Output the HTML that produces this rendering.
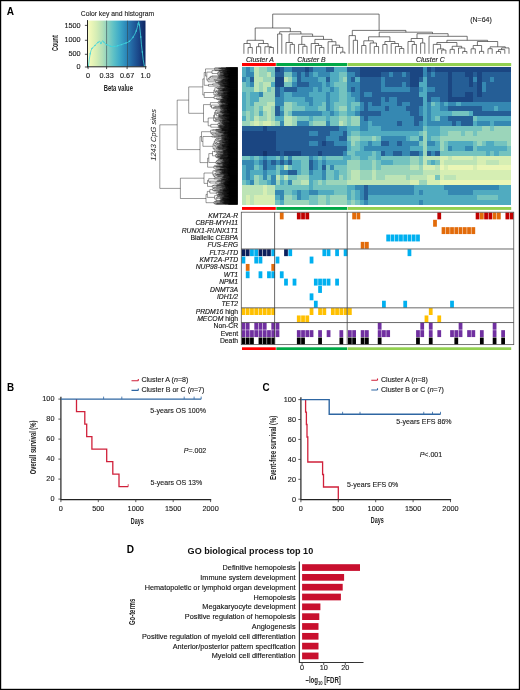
<!DOCTYPE html>
<html><head><meta charset="utf-8"><style>
html,body{margin:0;padding:0;background:#fff;}
body{width:520px;height:690px;overflow:hidden;}
svg{display:block;font-family:"Liberation Sans", sans-serif;will-change:transform;}

</style></head><body>
<svg width="520" height="690" viewBox="0 0 520 690">
<rect width="520" height="690" fill="#fff"/>
<text font-size="10.4" font-weight="bold" fill="#000" transform="translate(6.80,14.50) scale(0.970,1)" >A</text>
<defs><linearGradient id="ck" x1="0" x2="1" y1="0" y2="0">
<stop offset="0" stop-color="#f8fbc8"/><stop offset="0.05" stop-color="#eef7b8"/>
<stop offset="0.15" stop-color="#d5edb5"/><stop offset="0.25" stop-color="#b5e0b8"/>
<stop offset="0.33" stop-color="#90d3c0"/><stop offset="0.45" stop-color="#5cc0c6"/>
<stop offset="0.55" stop-color="#3eaac8"/><stop offset="0.67" stop-color="#2a86b8"/>
<stop offset="0.78" stop-color="#2262a0"/><stop offset="0.88" stop-color="#1a4688"/>
<stop offset="1" stop-color="#0c2460"/></linearGradient></defs>
<rect x="87.9" y="20.6" width="57.599999999999994" height="45.99999999999999" fill="url(#ck)"/>
<line x1="106.6" y1="20.6" x2="106.6" y2="66.6" stroke="#34474f" stroke-width="0.6"/>
<line x1="127.5" y1="20.6" x2="127.5" y2="66.6" stroke="#34474f" stroke-width="0.6"/>
<polyline fill="none" stroke="#3fd3dc" stroke-width="0.8" points="88.4,66.3 89.2,60 90.2,53.8 91,50.5 92,48.4 93.5,46.8 95,45.4 96.5,44 97.9,42.4 99.7,41.2 100.9,43.6 102.7,40.6 104,42.2 105,43.6 106.8,44.8 108.6,45.4 110.4,46.2 112.2,46.6 114,46.4 115.8,46.4 117.6,45.8 119.4,45.2 121.5,44.6 124.1,43.6 126,43 127.7,42.4 129.5,41.2 131.3,39.5 133,37.2 134.9,34.1 136.2,31 137.3,27.5 138.1,24 138.7,21.6 139.4,25 140.2,31.1 140.8,37 141.4,44.2 142.3,52 143.2,59.7 144.4,66.3"/>
<g fill="#3fd6df"><circle cx="88.4" cy="66.3" r="0.7"/><circle cx="90.2" cy="53.8" r="0.7"/><circle cx="92" cy="48.4" r="0.7"/><circle cx="95" cy="45.4" r="0.7"/><circle cx="97.9" cy="42.4" r="0.7"/><circle cx="100.9" cy="43.6" r="0.7"/><circle cx="104" cy="42.2" r="0.7"/><circle cx="106.8" cy="44.8" r="0.7"/><circle cx="110.4" cy="46.2" r="0.7"/><circle cx="114" cy="46.4" r="0.7"/><circle cx="117.6" cy="45.8" r="0.7"/><circle cx="121.5" cy="44.6" r="0.7"/><circle cx="126" cy="43" r="0.7"/><circle cx="129.5" cy="41.2" r="0.7"/><circle cx="133" cy="37.2" r="0.7"/><circle cx="136.2" cy="31" r="0.7"/><circle cx="138.1" cy="24" r="0.7"/><circle cx="139.4" cy="25" r="0.7"/><circle cx="140.8" cy="37" r="0.7"/><circle cx="142.3" cy="52" r="0.7"/><circle cx="144.4" cy="66.3" r="0.7"/></g>
<line x1="87.5" y1="20.1" x2="87.5" y2="67.19999999999999" stroke="#222" stroke-width="1"/>
<line x1="87.0" y1="66.8" x2="146.5" y2="66.8" stroke="#222" stroke-width="1"/>
<line x1="84.9" y1="25.4" x2="87.9" y2="25.4" stroke="#222" stroke-width="0.8"/>
<text font-size="6.9" text-anchor="end" fill="#1a1a1a" stroke="#1a1a1a" stroke-width="0.12" transform="translate(80.70,27.65) scale(1.060,1)" >1500</text>
<line x1="84.9" y1="40.3" x2="87.9" y2="40.3" stroke="#222" stroke-width="0.8"/>
<text font-size="6.9" text-anchor="end" fill="#1a1a1a" stroke="#1a1a1a" stroke-width="0.12" transform="translate(80.70,41.60) scale(1.060,1)" >1000</text>
<line x1="84.9" y1="54.3" x2="87.9" y2="54.3" stroke="#222" stroke-width="0.8"/>
<text font-size="6.9" text-anchor="end" fill="#1a1a1a" stroke="#1a1a1a" stroke-width="0.12" transform="translate(80.70,55.60) scale(1.060,1)" >500</text>
<line x1="84.9" y1="67.0" x2="87.9" y2="67.0" stroke="#222" stroke-width="0.8"/>
<text font-size="6.9" text-anchor="end" fill="#1a1a1a" stroke="#1a1a1a" stroke-width="0.12" transform="translate(80.70,68.90) scale(1.060,1)" >0</text>
<line x1="88.1" y1="66.6" x2="88.1" y2="69.1" stroke="#222" stroke-width="0.8"/>
<text font-size="6.9" text-anchor="middle" fill="#1a1a1a" stroke="#1a1a1a" stroke-width="0.12" transform="translate(88.10,77.80) scale(1.060,1)" >0</text>
<line x1="106.6" y1="66.6" x2="106.6" y2="69.1" stroke="#222" stroke-width="0.8"/>
<text font-size="6.9" text-anchor="middle" fill="#1a1a1a" stroke="#1a1a1a" stroke-width="0.12" transform="translate(106.60,77.80) scale(1.060,1)" >0.33</text>
<line x1="127.1" y1="66.6" x2="127.1" y2="69.1" stroke="#222" stroke-width="0.8"/>
<text font-size="6.9" text-anchor="middle" fill="#1a1a1a" stroke="#1a1a1a" stroke-width="0.12" transform="translate(127.10,77.80) scale(1.060,1)" >0.67</text>
<line x1="145.6" y1="66.6" x2="145.6" y2="69.1" stroke="#222" stroke-width="0.8"/>
<text font-size="6.9" text-anchor="middle" fill="#1a1a1a" stroke="#1a1a1a" stroke-width="0.12" transform="translate(145.60,77.80) scale(1.060,1)" >1.0</text>
<text font-size="7.0" text-anchor="middle" fill="#222" stroke="#222" stroke-width="0.12" transform="translate(117.45,16.30) scale(0.970,1)" >Color key and histogram</text>
<text font-size="9.3" text-anchor="middle" font-weight="bold" fill="#222" transform="translate(58.10,43.10) rotate(-90) scale(0.581,1)" >Count</text>
<text font-size="8.9" text-anchor="middle" font-weight="bold" fill="#222" transform="translate(118.30,90.50) scale(0.656,1)" >Beta value</text>
<g shape-rendering="crispEdges"><path fill="#eaf6b6" d="M439.57 165.27h4.25v4.94h-4.25zM447.98 165.27h25.29v4.94h-25.29zM477.44 165.27h33.70v4.94h-33.70zM439.57 179.98h71.57v4.94h-71.57z"/><path fill="#d6eeb3" d="M254.42 121.14h4.25v4.94h-4.25zM262.84 121.14h8.46v4.94h-8.46zM439.57 155.46h8.46v4.94h-8.46zM452.19 155.46h21.08v4.94h-21.08zM477.44 155.46h33.70v4.94h-33.70zM439.57 160.37h4.25v4.94h-4.25zM477.44 160.37h8.46v4.94h-8.46zM498.48 160.37h12.66v4.94h-12.66zM422.74 165.27h12.66v4.94h-12.66zM443.78 165.27h4.25v4.94h-4.25zM473.23 165.27h4.25v4.94h-4.25zM439.57 170.18h71.57v4.94h-71.57zM426.94 175.08h8.46v4.94h-8.46zM439.57 175.08h4.25v4.94h-4.25zM456.40 175.08h54.74v4.94h-54.74zM410.11 179.98h8.46v4.94h-8.46zM426.94 179.98h12.66v4.94h-12.66zM262.84 184.89h4.25v4.94h-4.25zM262.84 189.79h4.25v4.94h-4.25zM246.01 194.69h4.25v4.94h-4.25zM254.42 194.69h21.08v4.94h-21.08zM246.01 199.60h4.25v4.94h-4.25zM254.42 199.60h21.08v4.94h-21.08z"/><path fill="#bde4b6" d="M254.42 67.20h4.25v4.94h-4.25zM254.42 72.10h4.25v4.94h-4.25zM267.05 72.10h4.25v4.94h-4.25zM254.42 77.01h8.46v4.94h-8.46zM283.88 77.01h4.25v4.94h-4.25zM254.42 81.91h4.25v4.94h-4.25zM262.84 81.91h8.46v4.94h-8.46zM254.42 86.81h4.25v4.94h-4.25zM262.84 86.81h4.25v4.94h-4.25zM267.05 101.53h8.46v4.94h-8.46zM262.84 106.43h8.46v4.94h-8.46zM267.05 111.33h4.25v4.94h-4.25zM254.42 116.24h4.25v4.94h-4.25zM267.05 116.24h4.25v4.94h-4.25zM283.88 116.24h8.46v4.94h-8.46zM250.22 121.14h4.25v4.94h-4.25zM258.63 121.14h4.25v4.94h-4.25zM271.25 121.14h4.25v4.94h-4.25zM283.88 121.14h8.46v4.94h-8.46zM338.58 121.14h4.25v4.94h-4.25zM422.74 155.46h16.87v4.94h-16.87zM447.98 155.46h4.25v4.94h-4.25zM473.23 155.46h4.25v4.94h-4.25zM422.74 160.37h4.25v4.94h-4.25zM443.78 160.37h33.70v4.94h-33.70zM485.85 160.37h12.66v4.94h-12.66zM283.88 165.27h4.25v4.94h-4.25zM410.11 165.27h8.46v4.94h-8.46zM435.36 165.27h4.25v4.94h-4.25zM351.20 170.18h8.46v4.94h-8.46zM372.24 170.18h4.25v4.94h-4.25zM422.74 170.18h16.87v4.94h-16.87zM275.46 175.08h4.25v4.94h-4.25zM283.88 175.08h4.25v4.94h-4.25zM351.20 175.08h8.46v4.94h-8.46zM372.24 175.08h4.25v4.94h-4.25zM384.87 175.08h21.08v4.94h-21.08zM410.11 175.08h16.87v4.94h-16.87zM443.78 175.08h12.66v4.94h-12.66zM300.71 179.98h8.46v4.94h-8.46zM347.00 179.98h63.16v4.94h-63.16zM241.80 184.89h21.08v4.94h-21.08zM267.05 184.89h8.46v4.94h-8.46zM241.80 189.79h21.08v4.94h-21.08zM267.05 189.79h8.46v4.94h-8.46zM241.80 194.69h4.25v4.94h-4.25zM250.22 194.69h4.25v4.94h-4.25zM241.80 199.60h4.25v4.94h-4.25zM250.22 199.60h4.25v4.94h-4.25z"/><path fill="#9bd5ba" d="M258.63 67.20h8.46v4.94h-8.46zM258.63 72.10h8.46v4.94h-8.46zM262.84 77.01h12.66v4.94h-12.66zM288.09 77.01h4.25v4.94h-4.25zM342.79 77.01h4.25v4.94h-4.25zM258.63 81.91h4.25v4.94h-4.25zM258.63 86.81h4.25v4.94h-4.25zM271.25 86.81h4.25v4.94h-4.25zM262.84 91.72h12.66v4.94h-12.66zM258.63 96.62h16.87v4.94h-16.87zM254.42 101.53h12.66v4.94h-12.66zM283.88 101.53h8.46v4.94h-8.46zM254.42 106.43h4.25v4.94h-4.25zM271.25 106.43h4.25v4.94h-4.25zM283.88 106.43h8.46v4.94h-8.46zM338.58 106.43h8.46v4.94h-8.46zM246.01 111.33h4.25v4.94h-4.25zM254.42 111.33h4.25v4.94h-4.25zM262.84 111.33h4.25v4.94h-4.25zM271.25 111.33h4.25v4.94h-4.25zM283.88 111.33h4.25v4.94h-4.25zM246.01 116.24h4.25v4.94h-4.25zM258.63 116.24h8.46v4.94h-8.46zM271.25 116.24h4.25v4.94h-4.25zM292.29 116.24h4.25v4.94h-4.25zM338.58 116.24h8.46v4.94h-8.46zM351.20 116.24h8.46v4.94h-8.46zM241.80 121.14h8.46v4.94h-8.46zM275.46 121.14h4.25v4.94h-4.25zM292.29 121.14h4.25v4.94h-4.25zM313.33 121.14h12.66v4.94h-12.66zM342.79 121.14h4.25v4.94h-4.25zM351.20 121.14h8.46v4.94h-8.46zM481.65 126.04h8.46v4.94h-8.46zM494.27 126.04h16.87v4.94h-16.87zM422.74 130.95h4.25v4.94h-4.25zM447.98 130.95h12.66v4.94h-12.66zM464.81 130.95h8.46v4.94h-8.46zM477.44 130.95h33.70v4.94h-33.70zM351.20 135.85h8.46v4.94h-8.46zM372.24 135.85h4.25v4.94h-4.25zM422.74 135.85h4.25v4.94h-4.25zM439.57 135.85h71.57v4.94h-71.57zM351.20 140.75h4.25v4.94h-4.25zM422.74 140.75h4.25v4.94h-4.25zM439.57 140.75h4.25v4.94h-4.25zM477.44 140.75h4.25v4.94h-4.25zM506.89 140.75h4.25v4.94h-4.25zM422.74 145.66h4.25v4.94h-4.25zM439.57 145.66h4.25v4.94h-4.25zM422.74 150.56h4.25v4.94h-4.25zM410.11 155.46h8.46v4.94h-8.46zM347.00 160.37h12.66v4.94h-12.66zM372.24 160.37h4.25v4.94h-4.25zM410.11 160.37h8.46v4.94h-8.46zM347.00 165.27h12.66v4.94h-12.66zM372.24 165.27h4.25v4.94h-4.25zM380.66 165.27h29.49v4.94h-29.49zM418.53 165.27h4.25v4.94h-4.25zM347.00 170.18h4.25v4.94h-4.25zM359.62 170.18h12.66v4.94h-12.66zM376.45 170.18h46.33v4.94h-46.33zM254.42 175.08h4.25v4.94h-4.25zM296.50 175.08h12.66v4.94h-12.66zM338.58 175.08h4.25v4.94h-4.25zM347.00 175.08h4.25v4.94h-4.25zM359.62 175.08h12.66v4.94h-12.66zM376.45 175.08h8.46v4.94h-8.46zM405.90 175.08h4.25v4.94h-4.25zM254.42 179.98h4.25v4.94h-4.25zM275.46 179.98h4.25v4.94h-4.25zM292.29 179.98h8.46v4.94h-8.46zM317.54 179.98h4.25v4.94h-4.25zM325.96 179.98h21.08v4.94h-21.08zM418.53 179.98h8.46v4.94h-8.46zM283.88 194.69h8.46v4.94h-8.46zM317.54 194.69h8.46v4.94h-8.46zM330.16 194.69h16.87v4.94h-16.87zM283.88 199.60h25.29v4.94h-25.29zM317.54 199.60h8.46v4.94h-8.46zM330.16 199.60h16.87v4.94h-16.87zM351.20 199.60h4.25v4.94h-4.25z"/><path fill="#74c3bf" d="M267.05 67.20h8.46v4.94h-8.46zM271.25 72.10h4.25v4.94h-4.25zM283.88 72.10h8.46v4.94h-8.46zM338.58 72.10h8.46v4.94h-8.46zM338.58 77.01h4.25v4.94h-4.25zM241.80 81.91h4.25v4.94h-4.25zM283.88 81.91h8.46v4.94h-8.46zM334.37 81.91h12.66v4.94h-12.66zM241.80 86.81h12.66v4.94h-12.66zM267.05 86.81h4.25v4.94h-4.25zM338.58 86.81h8.46v4.94h-8.46zM246.01 91.72h4.25v4.94h-4.25zM338.58 91.72h8.46v4.94h-8.46zM246.01 96.62h4.25v4.94h-4.25zM338.58 96.62h8.46v4.94h-8.46zM246.01 101.53h4.25v4.94h-4.25zM292.29 101.53h4.25v4.94h-4.25zM321.75 101.53h4.25v4.94h-4.25zM334.37 101.53h12.66v4.94h-12.66zM351.20 101.53h8.46v4.94h-8.46zM431.15 101.53h4.25v4.94h-4.25zM246.01 106.43h8.46v4.94h-8.46zM258.63 106.43h4.25v4.94h-4.25zM292.29 106.43h12.66v4.94h-12.66zM317.54 106.43h8.46v4.94h-8.46zM334.37 106.43h4.25v4.94h-4.25zM351.20 106.43h4.25v4.94h-4.25zM241.80 111.33h4.25v4.94h-4.25zM250.22 111.33h4.25v4.94h-4.25zM288.09 111.33h4.25v4.94h-4.25zM338.58 111.33h8.46v4.94h-8.46zM452.19 111.33h16.87v4.94h-16.87zM250.22 116.24h4.25v4.94h-4.25zM296.50 116.24h12.66v4.94h-12.66zM313.33 116.24h12.66v4.94h-12.66zM330.16 116.24h8.46v4.94h-8.46zM347.00 116.24h4.25v4.94h-4.25zM435.36 116.24h4.25v4.94h-4.25zM473.23 116.24h4.25v4.94h-4.25zM309.12 121.14h4.25v4.94h-4.25zM330.16 121.14h8.46v4.94h-8.46zM347.00 121.14h4.25v4.94h-4.25zM422.74 126.04h4.25v4.94h-4.25zM439.57 126.04h42.12v4.94h-42.12zM490.06 126.04h4.25v4.94h-4.25zM351.20 130.95h8.46v4.94h-8.46zM418.53 130.95h4.25v4.94h-4.25zM439.57 130.95h8.46v4.94h-8.46zM460.61 130.95h4.25v4.94h-4.25zM473.23 130.95h4.25v4.94h-4.25zM347.00 135.85h4.25v4.94h-4.25zM359.62 135.85h12.66v4.94h-12.66zM376.45 135.85h4.25v4.94h-4.25zM410.11 135.85h8.46v4.94h-8.46zM431.15 135.85h8.46v4.94h-8.46zM355.41 140.75h4.25v4.94h-4.25zM418.53 140.75h4.25v4.94h-4.25zM443.78 140.75h4.25v4.94h-4.25zM473.23 140.75h4.25v4.94h-4.25zM481.65 140.75h4.25v4.94h-4.25zM494.27 140.75h12.66v4.94h-12.66zM351.20 145.66h8.46v4.94h-8.46zM443.78 145.66h4.25v4.94h-4.25zM473.23 145.66h4.25v4.94h-4.25zM506.89 145.66h4.25v4.94h-4.25zM347.00 150.56h8.46v4.94h-8.46zM372.24 150.56h4.25v4.94h-4.25zM439.57 150.56h46.33v4.94h-46.33zM490.06 150.56h4.25v4.94h-4.25zM498.48 150.56h12.66v4.94h-12.66zM241.80 155.46h8.46v4.94h-8.46zM254.42 155.46h4.25v4.94h-4.25zM275.46 155.46h4.25v4.94h-4.25zM283.88 155.46h4.25v4.94h-4.25zM292.29 155.46h16.87v4.94h-16.87zM317.54 155.46h4.25v4.94h-4.25zM325.96 155.46h16.87v4.94h-16.87zM351.20 155.46h8.46v4.94h-8.46zM368.03 155.46h8.46v4.94h-8.46zM380.66 155.46h29.49v4.94h-29.49zM418.53 155.46h4.25v4.94h-4.25zM300.71 160.37h8.46v4.94h-8.46zM359.62 160.37h12.66v4.94h-12.66zM376.45 160.37h4.25v4.94h-4.25zM393.28 160.37h16.87v4.94h-16.87zM418.53 160.37h4.25v4.94h-4.25zM426.94 160.37h4.25v4.94h-4.25zM435.36 160.37h4.25v4.94h-4.25zM254.42 165.27h4.25v4.94h-4.25zM275.46 165.27h4.25v4.94h-4.25zM288.09 165.27h4.25v4.94h-4.25zM300.71 165.27h8.46v4.94h-8.46zM325.96 165.27h4.25v4.94h-4.25zM334.37 165.27h12.66v4.94h-12.66zM359.62 165.27h12.66v4.94h-12.66zM376.45 165.27h4.25v4.94h-4.25zM275.46 170.18h4.25v4.94h-4.25zM300.71 170.18h8.46v4.94h-8.46zM325.96 170.18h8.46v4.94h-8.46zM338.58 170.18h8.46v4.94h-8.46zM258.63 175.08h4.25v4.94h-4.25zM267.05 175.08h4.25v4.94h-4.25zM279.67 175.08h4.25v4.94h-4.25zM288.09 175.08h8.46v4.94h-8.46zM325.96 175.08h8.46v4.94h-8.46zM342.79 175.08h4.25v4.94h-4.25zM435.36 175.08h4.25v4.94h-4.25zM241.80 179.98h4.25v4.94h-4.25zM258.63 179.98h8.46v4.94h-8.46zM283.88 179.98h4.25v4.94h-4.25zM313.33 179.98h4.25v4.94h-4.25zM321.75 179.98h4.25v4.94h-4.25zM275.46 184.89h33.70v4.94h-33.70zM313.33 184.89h33.70v4.94h-33.70zM283.88 189.79h8.46v4.94h-8.46zM334.37 189.79h12.66v4.94h-12.66zM351.20 189.79h4.25v4.94h-4.25zM292.29 194.69h4.25v4.94h-4.25zM309.12 194.69h8.46v4.94h-8.46zM325.96 194.69h4.25v4.94h-4.25zM351.20 194.69h4.25v4.94h-4.25zM477.44 194.69h21.08v4.94h-21.08zM275.46 199.60h4.25v4.94h-4.25zM309.12 199.60h8.46v4.94h-8.46zM325.96 199.60h4.25v4.94h-4.25zM347.00 199.60h4.25v4.94h-4.25zM355.41 199.60h4.25v4.94h-4.25z"/><path fill="#50abc0" d="M241.80 67.20h4.25v4.94h-4.25zM250.22 67.20h4.25v4.94h-4.25zM334.37 67.20h12.66v4.94h-12.66zM241.80 72.10h4.25v4.94h-4.25zM313.33 72.10h4.25v4.94h-4.25zM330.16 72.10h8.46v4.94h-8.46zM246.01 77.01h4.25v4.94h-4.25zM292.29 77.01h4.25v4.94h-4.25zM317.54 77.01h8.46v4.94h-8.46zM330.16 77.01h8.46v4.94h-8.46zM355.41 77.01h4.25v4.94h-4.25zM422.74 77.01h4.25v4.94h-4.25zM246.01 81.91h4.25v4.94h-4.25zM271.25 81.91h4.25v4.94h-4.25zM321.75 81.91h4.25v4.94h-4.25zM330.16 81.91h4.25v4.94h-4.25zM418.53 81.91h8.46v4.94h-8.46zM313.33 86.81h4.25v4.94h-4.25zM321.75 86.81h8.46v4.94h-8.46zM334.37 86.81h4.25v4.94h-4.25zM422.74 86.81h4.25v4.94h-4.25zM241.80 91.72h4.25v4.94h-4.25zM250.22 91.72h8.46v4.94h-8.46zM283.88 91.72h8.46v4.94h-8.46zM309.12 91.72h16.87v4.94h-16.87zM330.16 91.72h8.46v4.94h-8.46zM347.00 91.72h4.25v4.94h-4.25zM418.53 91.72h8.46v4.94h-8.46zM241.80 96.62h4.25v4.94h-4.25zM250.22 96.62h8.46v4.94h-8.46zM283.88 96.62h21.08v4.94h-21.08zM313.33 96.62h12.66v4.94h-12.66zM330.16 96.62h8.46v4.94h-8.46zM347.00 96.62h8.46v4.94h-8.46zM422.74 96.62h4.25v4.94h-4.25zM241.80 101.53h4.25v4.94h-4.25zM250.22 101.53h4.25v4.94h-4.25zM296.50 101.53h12.66v4.94h-12.66zM313.33 101.53h8.46v4.94h-8.46zM330.16 101.53h4.25v4.94h-4.25zM347.00 101.53h4.25v4.94h-4.25zM422.74 101.53h4.25v4.94h-4.25zM435.36 101.53h4.25v4.94h-4.25zM443.78 101.53h4.25v4.94h-4.25zM456.40 101.53h4.25v4.94h-4.25zM241.80 106.43h4.25v4.94h-4.25zM279.67 106.43h4.25v4.94h-4.25zM304.92 106.43h12.66v4.94h-12.66zM330.16 106.43h4.25v4.94h-4.25zM347.00 106.43h4.25v4.94h-4.25zM355.41 106.43h4.25v4.94h-4.25zM422.74 106.43h4.25v4.94h-4.25zM431.15 106.43h8.46v4.94h-8.46zM494.27 106.43h4.25v4.94h-4.25zM258.63 111.33h4.25v4.94h-4.25zM321.75 111.33h8.46v4.94h-8.46zM334.37 111.33h4.25v4.94h-4.25zM347.00 111.33h8.46v4.94h-8.46zM422.74 111.33h4.25v4.94h-4.25zM431.15 111.33h21.08v4.94h-21.08zM469.02 111.33h4.25v4.94h-4.25zM241.80 116.24h4.25v4.94h-4.25zM275.46 116.24h8.46v4.94h-8.46zM309.12 116.24h4.25v4.94h-4.25zM325.96 116.24h4.25v4.94h-4.25zM422.74 116.24h4.25v4.94h-4.25zM431.15 116.24h4.25v4.94h-4.25zM477.44 116.24h33.70v4.94h-33.70zM368.03 121.14h4.25v4.94h-4.25zM422.74 121.14h4.25v4.94h-4.25zM473.23 121.14h4.25v4.94h-4.25zM490.06 121.14h4.25v4.94h-4.25zM347.00 126.04h12.66v4.94h-12.66zM368.03 126.04h12.66v4.94h-12.66zM426.94 126.04h12.66v4.94h-12.66zM347.00 130.95h4.25v4.94h-4.25zM359.62 130.95h58.95v4.94h-58.95zM426.94 130.95h12.66v4.94h-12.66zM405.90 135.85h4.25v4.94h-4.25zM426.94 135.85h4.25v4.94h-4.25zM347.00 140.75h4.25v4.94h-4.25zM359.62 140.75h8.46v4.94h-8.46zM372.24 140.75h8.46v4.94h-8.46zM435.36 140.75h4.25v4.94h-4.25zM447.98 140.75h25.29v4.94h-25.29zM485.85 140.75h8.46v4.94h-8.46zM347.00 145.66h4.25v4.94h-4.25zM359.62 145.66h4.25v4.94h-4.25zM410.11 145.66h12.66v4.94h-12.66zM426.94 145.66h12.66v4.94h-12.66zM452.19 145.66h12.66v4.94h-12.66zM477.44 145.66h29.49v4.94h-29.49zM355.41 150.56h16.87v4.94h-16.87zM376.45 150.56h4.25v4.94h-4.25zM485.85 150.56h4.25v4.94h-4.25zM494.27 150.56h4.25v4.94h-4.25zM250.22 155.46h4.25v4.94h-4.25zM258.63 155.46h4.25v4.94h-4.25zM267.05 155.46h8.46v4.94h-8.46zM313.33 155.46h4.25v4.94h-4.25zM321.75 155.46h4.25v4.94h-4.25zM342.79 155.46h8.46v4.94h-8.46zM359.62 155.46h8.46v4.94h-8.46zM376.45 155.46h4.25v4.94h-4.25zM254.42 160.37h4.25v4.94h-4.25zM292.29 160.37h8.46v4.94h-8.46zM317.54 160.37h4.25v4.94h-4.25zM325.96 160.37h21.08v4.94h-21.08zM380.66 160.37h12.66v4.94h-12.66zM431.15 160.37h4.25v4.94h-4.25zM241.80 165.27h4.25v4.94h-4.25zM258.63 165.27h4.25v4.94h-4.25zM279.67 165.27h4.25v4.94h-4.25zM292.29 165.27h8.46v4.94h-8.46zM317.54 165.27h4.25v4.94h-4.25zM241.80 170.18h4.25v4.94h-4.25zM250.22 170.18h12.66v4.94h-12.66zM267.05 170.18h8.46v4.94h-8.46zM296.50 170.18h4.25v4.94h-4.25zM313.33 170.18h8.46v4.94h-8.46zM334.37 170.18h4.25v4.94h-4.25zM241.80 175.08h4.25v4.94h-4.25zM250.22 175.08h4.25v4.94h-4.25zM309.12 175.08h12.66v4.94h-12.66zM334.37 175.08h4.25v4.94h-4.25zM246.01 179.98h4.25v4.94h-4.25zM267.05 179.98h4.25v4.94h-4.25zM279.67 179.98h4.25v4.94h-4.25zM309.12 179.98h4.25v4.94h-4.25zM309.12 184.89h4.25v4.94h-4.25zM347.00 184.89h8.46v4.94h-8.46zM414.32 184.89h29.49v4.94h-29.49zM498.48 184.89h12.66v4.94h-12.66zM292.29 189.79h4.25v4.94h-4.25zM300.71 189.79h8.46v4.94h-8.46zM317.54 189.79h16.87v4.94h-16.87zM347.00 189.79h4.25v4.94h-4.25zM355.41 189.79h4.25v4.94h-4.25zM414.32 189.79h4.25v4.94h-4.25zM422.74 189.79h25.29v4.94h-25.29zM473.23 189.79h37.91v4.94h-37.91zM275.46 194.69h4.25v4.94h-4.25zM300.71 194.69h8.46v4.94h-8.46zM347.00 194.69h4.25v4.94h-4.25zM355.41 194.69h4.25v4.94h-4.25zM368.03 194.69h109.44v4.94h-109.44zM498.48 194.69h12.66v4.94h-12.66zM279.67 199.60h4.25v4.94h-4.25zM359.62 199.60h4.25v4.94h-4.25zM368.03 199.60h50.53v4.94h-50.53zM422.74 199.60h88.40v4.94h-88.40z"/><path fill="#3588b2" d="M246.01 67.20h4.25v4.94h-4.25zM283.88 67.20h8.46v4.94h-8.46zM313.33 67.20h12.66v4.94h-12.66zM422.74 67.20h4.25v4.94h-4.25zM246.01 72.10h8.46v4.94h-8.46zM292.29 72.10h4.25v4.94h-4.25zM300.71 72.10h4.25v4.94h-4.25zM309.12 72.10h4.25v4.94h-4.25zM317.54 72.10h12.66v4.94h-12.66zM347.00 72.10h8.46v4.94h-8.46zM389.07 72.10h4.25v4.94h-4.25zM401.70 72.10h4.25v4.94h-4.25zM422.74 72.10h4.25v4.94h-4.25zM431.15 72.10h4.25v4.94h-4.25zM241.80 77.01h4.25v4.94h-4.25zM300.71 77.01h16.87v4.94h-16.87zM347.00 77.01h4.25v4.94h-4.25zM380.66 77.01h4.25v4.94h-4.25zM473.23 77.01h4.25v4.94h-4.25zM490.06 77.01h4.25v4.94h-4.25zM250.22 81.91h4.25v4.94h-4.25zM292.29 81.91h4.25v4.94h-4.25zM309.12 81.91h12.66v4.94h-12.66zM325.96 81.91h4.25v4.94h-4.25zM347.00 81.91h12.66v4.94h-12.66zM380.66 81.91h4.25v4.94h-4.25zM401.70 81.91h4.25v4.94h-4.25zM481.65 81.91h4.25v4.94h-4.25zM279.67 86.81h4.25v4.94h-4.25zM296.50 86.81h16.87v4.94h-16.87zM317.54 86.81h4.25v4.94h-4.25zM330.16 86.81h4.25v4.94h-4.25zM347.00 86.81h4.25v4.94h-4.25zM355.41 86.81h4.25v4.94h-4.25zM380.66 86.81h29.49v4.94h-29.49zM418.53 86.81h4.25v4.94h-4.25zM426.94 86.81h8.46v4.94h-8.46zM481.65 86.81h4.25v4.94h-4.25zM258.63 91.72h4.25v4.94h-4.25zM279.67 91.72h4.25v4.94h-4.25zM292.29 91.72h16.87v4.94h-16.87zM325.96 91.72h4.25v4.94h-4.25zM351.20 91.72h8.46v4.94h-8.46zM363.83 91.72h8.46v4.94h-8.46zM275.46 96.62h8.46v4.94h-8.46zM304.92 96.62h8.46v4.94h-8.46zM325.96 96.62h4.25v4.94h-4.25zM355.41 96.62h4.25v4.94h-4.25zM380.66 96.62h4.25v4.94h-4.25zM389.07 96.62h8.46v4.94h-8.46zM431.15 96.62h8.46v4.94h-8.46zM275.46 101.53h8.46v4.94h-8.46zM309.12 101.53h4.25v4.94h-4.25zM325.96 101.53h4.25v4.94h-4.25zM359.62 101.53h4.25v4.94h-4.25zM368.03 101.53h4.25v4.94h-4.25zM380.66 101.53h16.87v4.94h-16.87zM401.70 101.53h8.46v4.94h-8.46zM426.94 101.53h4.25v4.94h-4.25zM439.57 101.53h4.25v4.94h-4.25zM447.98 101.53h8.46v4.94h-8.46zM460.61 101.53h50.53v4.94h-50.53zM325.96 106.43h4.25v4.94h-4.25zM359.62 106.43h4.25v4.94h-4.25zM368.03 106.43h16.87v4.94h-16.87zM389.07 106.43h16.87v4.94h-16.87zM418.53 106.43h4.25v4.94h-4.25zM426.94 106.43h4.25v4.94h-4.25zM439.57 106.43h8.46v4.94h-8.46zM481.65 106.43h12.66v4.94h-12.66zM498.48 106.43h12.66v4.94h-12.66zM279.67 111.33h4.25v4.94h-4.25zM292.29 111.33h29.49v4.94h-29.49zM330.16 111.33h4.25v4.94h-4.25zM355.41 111.33h4.25v4.94h-4.25zM380.66 111.33h29.49v4.94h-29.49zM418.53 111.33h4.25v4.94h-4.25zM426.94 111.33h4.25v4.94h-4.25zM359.62 116.24h4.25v4.94h-4.25zM368.03 116.24h46.33v4.94h-46.33zM426.94 116.24h4.25v4.94h-4.25zM439.57 116.24h8.46v4.94h-8.46zM279.67 121.14h4.25v4.94h-4.25zM296.50 121.14h12.66v4.94h-12.66zM325.96 121.14h4.25v4.94h-4.25zM359.62 121.14h8.46v4.94h-8.46zM372.24 121.14h25.29v4.94h-25.29zM401.70 121.14h12.66v4.94h-12.66zM418.53 121.14h4.25v4.94h-4.25zM426.94 121.14h25.29v4.94h-25.29zM456.40 121.14h4.25v4.94h-4.25zM477.44 121.14h12.66v4.94h-12.66zM494.27 121.14h16.87v4.94h-16.87zM338.58 126.04h8.46v4.94h-8.46zM359.62 126.04h8.46v4.94h-8.46zM380.66 126.04h42.12v4.94h-42.12zM309.12 130.95h8.46v4.94h-8.46zM330.16 130.95h12.66v4.94h-12.66zM325.96 135.85h12.66v4.94h-12.66zM380.66 135.85h25.29v4.94h-25.29zM418.53 135.85h4.25v4.94h-4.25zM309.12 140.75h8.46v4.94h-8.46zM334.37 140.75h12.66v4.94h-12.66zM368.03 140.75h4.25v4.94h-4.25zM389.07 140.75h8.46v4.94h-8.46zM401.70 140.75h16.87v4.94h-16.87zM426.94 140.75h8.46v4.94h-8.46zM363.83 145.66h46.33v4.94h-46.33zM447.98 145.66h4.25v4.94h-4.25zM464.81 145.66h8.46v4.94h-8.46zM342.79 150.56h4.25v4.94h-4.25zM384.87 150.56h8.46v4.94h-8.46zM401.70 150.56h8.46v4.94h-8.46zM418.53 150.56h4.25v4.94h-4.25zM431.15 150.56h4.25v4.94h-4.25zM262.84 155.46h4.25v4.94h-4.25zM279.67 155.46h4.25v4.94h-4.25zM288.09 155.46h4.25v4.94h-4.25zM309.12 155.46h4.25v4.94h-4.25zM241.80 160.37h12.66v4.94h-12.66zM258.63 160.37h4.25v4.94h-4.25zM267.05 160.37h4.25v4.94h-4.25zM275.46 160.37h4.25v4.94h-4.25zM283.88 160.37h4.25v4.94h-4.25zM313.33 160.37h4.25v4.94h-4.25zM321.75 160.37h4.25v4.94h-4.25zM246.01 165.27h8.46v4.94h-8.46zM267.05 165.27h8.46v4.94h-8.46zM313.33 165.27h4.25v4.94h-4.25zM330.16 165.27h4.25v4.94h-4.25zM246.01 170.18h4.25v4.94h-4.25zM262.84 170.18h4.25v4.94h-4.25zM279.67 170.18h8.46v4.94h-8.46zM309.12 170.18h4.25v4.94h-4.25zM321.75 170.18h4.25v4.94h-4.25zM246.01 175.08h4.25v4.94h-4.25zM262.84 175.08h4.25v4.94h-4.25zM271.25 175.08h4.25v4.94h-4.25zM321.75 175.08h4.25v4.94h-4.25zM250.22 179.98h4.25v4.94h-4.25zM271.25 179.98h4.25v4.94h-4.25zM288.09 179.98h4.25v4.94h-4.25zM355.41 184.89h8.46v4.94h-8.46zM368.03 184.89h46.33v4.94h-46.33zM443.78 184.89h54.74v4.94h-54.74zM275.46 189.79h8.46v4.94h-8.46zM296.50 189.79h4.25v4.94h-4.25zM309.12 189.79h8.46v4.94h-8.46zM359.62 189.79h4.25v4.94h-4.25zM368.03 189.79h46.33v4.94h-46.33zM418.53 189.79h4.25v4.94h-4.25zM447.98 189.79h25.29v4.94h-25.29zM279.67 194.69h4.25v4.94h-4.25zM296.50 194.69h4.25v4.94h-4.25zM359.62 194.69h4.25v4.94h-4.25zM363.83 199.60h4.25v4.94h-4.25zM418.53 199.60h4.25v4.94h-4.25z"/><path fill="#255e96" d="M279.67 67.20h4.25v4.94h-4.25zM292.29 67.20h12.66v4.94h-12.66zM309.12 67.20h4.25v4.94h-4.25zM325.96 67.20h8.46v4.94h-8.46zM347.00 67.20h12.66v4.94h-12.66zM431.15 67.20h4.25v4.94h-4.25zM275.46 72.10h8.46v4.94h-8.46zM296.50 72.10h4.25v4.94h-4.25zM304.92 72.10h4.25v4.94h-4.25zM355.41 72.10h4.25v4.94h-4.25zM380.66 72.10h8.46v4.94h-8.46zM393.28 72.10h8.46v4.94h-8.46zM405.90 72.10h4.25v4.94h-4.25zM426.94 72.10h4.25v4.94h-4.25zM435.36 72.10h12.66v4.94h-12.66zM452.19 72.10h12.66v4.94h-12.66zM473.23 72.10h4.25v4.94h-4.25zM481.65 72.10h29.49v4.94h-29.49zM250.22 77.01h4.25v4.94h-4.25zM296.50 77.01h4.25v4.94h-4.25zM325.96 77.01h4.25v4.94h-4.25zM351.20 77.01h4.25v4.94h-4.25zM359.62 77.01h21.08v4.94h-21.08zM384.87 77.01h25.29v4.94h-25.29zM418.53 77.01h4.25v4.94h-4.25zM426.94 77.01h21.08v4.94h-21.08zM452.19 77.01h16.87v4.94h-16.87zM481.65 77.01h8.46v4.94h-8.46zM494.27 77.01h16.87v4.94h-16.87zM296.50 81.91h12.66v4.94h-12.66zM359.62 81.91h21.08v4.94h-21.08zM384.87 81.91h16.87v4.94h-16.87zM405.90 81.91h4.25v4.94h-4.25zM426.94 81.91h21.08v4.94h-21.08zM452.19 81.91h16.87v4.94h-16.87zM473.23 81.91h4.25v4.94h-4.25zM485.85 81.91h25.29v4.94h-25.29zM275.46 86.81h4.25v4.94h-4.25zM283.88 86.81h12.66v4.94h-12.66zM351.20 86.81h4.25v4.94h-4.25zM359.62 86.81h21.08v4.94h-21.08zM410.11 86.81h8.46v4.94h-8.46zM435.36 86.81h12.66v4.94h-12.66zM452.19 86.81h25.29v4.94h-25.29zM485.85 86.81h25.29v4.94h-25.29zM275.46 91.72h4.25v4.94h-4.25zM359.62 91.72h4.25v4.94h-4.25zM372.24 91.72h46.33v4.94h-46.33zM426.94 91.72h21.08v4.94h-21.08zM452.19 91.72h12.66v4.94h-12.66zM473.23 91.72h4.25v4.94h-4.25zM481.65 91.72h29.49v4.94h-29.49zM359.62 96.62h21.08v4.94h-21.08zM384.87 96.62h4.25v4.94h-4.25zM397.49 96.62h25.29v4.94h-25.29zM426.94 96.62h4.25v4.94h-4.25zM439.57 96.62h8.46v4.94h-8.46zM473.23 96.62h37.91v4.94h-37.91zM363.83 101.53h4.25v4.94h-4.25zM372.24 101.53h8.46v4.94h-8.46zM397.49 101.53h4.25v4.94h-4.25zM410.11 101.53h12.66v4.94h-12.66zM275.46 106.43h4.25v4.94h-4.25zM363.83 106.43h4.25v4.94h-4.25zM384.87 106.43h4.25v4.94h-4.25zM405.90 106.43h12.66v4.94h-12.66zM447.98 106.43h33.70v4.94h-33.70zM275.46 111.33h4.25v4.94h-4.25zM359.62 111.33h21.08v4.94h-21.08zM410.11 111.33h8.46v4.94h-8.46zM473.23 111.33h37.91v4.94h-37.91zM363.83 116.24h4.25v4.94h-4.25zM414.32 116.24h8.46v4.94h-8.46zM447.98 116.24h25.29v4.94h-25.29zM397.49 121.14h4.25v4.94h-4.25zM414.32 121.14h4.25v4.94h-4.25zM452.19 121.14h4.25v4.94h-4.25zM460.61 121.14h12.66v4.94h-12.66zM241.80 126.04h21.08v4.94h-21.08zM267.05 126.04h71.57v4.94h-71.57zM275.46 130.95h33.70v4.94h-33.70zM317.54 130.95h12.66v4.94h-12.66zM342.79 130.95h4.25v4.94h-4.25zM275.46 135.85h50.53v4.94h-50.53zM338.58 135.85h8.46v4.94h-8.46zM275.46 140.75h33.70v4.94h-33.70zM317.54 140.75h4.25v4.94h-4.25zM325.96 140.75h8.46v4.94h-8.46zM380.66 140.75h8.46v4.94h-8.46zM397.49 140.75h4.25v4.94h-4.25zM275.46 145.66h71.57v4.94h-71.57zM279.67 150.56h4.25v4.94h-4.25zM300.71 150.56h16.87v4.94h-16.87zM321.75 150.56h21.08v4.94h-21.08zM380.66 150.56h4.25v4.94h-4.25zM393.28 150.56h8.46v4.94h-8.46zM410.11 150.56h8.46v4.94h-8.46zM426.94 150.56h4.25v4.94h-4.25zM435.36 150.56h4.25v4.94h-4.25zM262.84 160.37h4.25v4.94h-4.25zM271.25 160.37h4.25v4.94h-4.25zM279.67 160.37h4.25v4.94h-4.25zM288.09 160.37h4.25v4.94h-4.25zM309.12 160.37h4.25v4.94h-4.25zM262.84 165.27h4.25v4.94h-4.25zM309.12 165.27h4.25v4.94h-4.25zM321.75 165.27h4.25v4.94h-4.25zM288.09 170.18h8.46v4.94h-8.46zM363.83 184.89h4.25v4.94h-4.25zM363.83 189.79h4.25v4.94h-4.25zM363.83 194.69h4.25v4.94h-4.25z"/><path fill="#1b4682" d="M275.46 67.20h4.25v4.94h-4.25zM304.92 67.20h4.25v4.94h-4.25zM359.62 67.20h63.16v4.94h-63.16zM426.94 67.20h4.25v4.94h-4.25zM435.36 67.20h75.78v4.94h-75.78zM359.62 72.10h21.08v4.94h-21.08zM410.11 72.10h12.66v4.94h-12.66zM447.98 72.10h4.25v4.94h-4.25zM464.81 72.10h8.46v4.94h-8.46zM477.44 72.10h4.25v4.94h-4.25zM275.46 77.01h8.46v4.94h-8.46zM410.11 77.01h8.46v4.94h-8.46zM447.98 77.01h4.25v4.94h-4.25zM469.02 77.01h4.25v4.94h-4.25zM477.44 77.01h4.25v4.94h-4.25zM275.46 81.91h8.46v4.94h-8.46zM410.11 81.91h8.46v4.94h-8.46zM447.98 81.91h4.25v4.94h-4.25zM469.02 81.91h4.25v4.94h-4.25zM477.44 81.91h4.25v4.94h-4.25zM447.98 86.81h4.25v4.94h-4.25zM477.44 86.81h4.25v4.94h-4.25zM447.98 91.72h4.25v4.94h-4.25zM464.81 91.72h8.46v4.94h-8.46zM477.44 91.72h4.25v4.94h-4.25zM447.98 96.62h25.29v4.94h-25.29zM262.84 126.04h4.25v4.94h-4.25zM241.80 130.95h33.70v4.94h-33.70zM241.80 135.85h33.70v4.94h-33.70zM241.80 140.75h33.70v4.94h-33.70zM321.75 140.75h4.25v4.94h-4.25zM241.80 145.66h33.70v4.94h-33.70zM241.80 150.56h21.08v4.94h-21.08zM267.05 150.56h12.66v4.94h-12.66zM283.88 150.56h16.87v4.94h-16.87zM317.54 150.56h4.25v4.94h-4.25z"/><path fill="#14356c" d="M262.84 150.56h4.25v4.94h-4.25z"/></g>
<rect x="242" y="63.0" width="33.8" height="3.0999999999999943" fill="#ff0000"/>
<rect x="276.3" y="63.0" width="70.9" height="3.0999999999999943" fill="#00a846"/>
<rect x="347.7" y="63.0" width="163.5" height="3.0999999999999943" fill="#92d050"/>
<rect x="242" y="207.0" width="33.8" height="2.9000000000000057" fill="#ff0000"/>
<rect x="276.3" y="207.0" width="70.9" height="2.9000000000000057" fill="#00a846"/>
<rect x="347.7" y="207.0" width="163.5" height="2.9000000000000057" fill="#92d050"/>
<rect x="242" y="347.3" width="33.8" height="2.6999999999999886" fill="#ff0000"/>
<rect x="276.3" y="347.3" width="70.9" height="2.6999999999999886" fill="#00a846"/>
<rect x="347.7" y="347.3" width="163.5" height="2.6999999999999886" fill="#92d050"/>
<text x="245.90" y="61.80" font-size="6.9" font-style="italic" fill="#222" stroke="#222" stroke-width="0.12" >Cluster A</text>
<text x="297.20" y="61.80" font-size="6.9" font-style="italic" fill="#222" stroke="#222" stroke-width="0.12" >Cluster B</text>
<text x="416.00" y="61.80" font-size="6.9" font-style="italic" fill="#222" stroke="#222" stroke-width="0.12" >Cluster C</text>
<text x="470.20" y="22.40" font-size="7.0" fill="#222" stroke="#222" stroke-width="0.12" >(N=64)</text>
<path d="M248.1 53.8V47.5H252.3V53.8M243.9 53.8V43.5H250.2V47.5M256.5 53.8V46.7H260.7V53.8M269.2 53.8V47.5H273.4V53.8M264.9 53.8V46.7H271.3V47.5M258.6 46.7V43.5H268.1V46.7M247.1 43.5V40.3H263.4V43.5M277.6 53.8V34.0H281.8V53.8M290.2 53.8V44.4H294.4V53.8M286.0 53.8V42.5H292.3V44.4M302.8 53.8V46.3H307.0V53.8M298.6 53.8V44.4H304.9V46.3M319.6 53.8V47.5H323.9V53.8M315.4 53.8V45.5H321.7V47.5M311.2 53.8V43.5H318.6V45.5M340.7 53.8V52.1H344.9V53.8M336.5 53.8V47.4H342.8V52.1M332.3 53.8V45.2H339.6V47.4M328.1 53.8V41.7H335.9V45.2M314.9 43.5V39.4H332.0V41.7M301.8 44.4V36.3H323.5V39.4M289.1 42.5V34.0H312.6V36.3M279.7 34.0V31.7H300.9V34.0M255.2 40.3V28.0H290.3V31.7M353.3 53.8V40.3H357.5V53.8M349.1 53.8V35.6H355.4V40.3M361.7 53.8V45.5H365.9V53.8M374.3 53.8V46.5H378.6V53.8M370.1 53.8V43.0H376.5V46.5M363.8 45.5V40.8H373.3V43.0M382.8 53.8V44.5H387.0V53.8M399.6 53.8V48.5H403.8V53.8M395.4 53.8V46.5H401.7V48.5M391.2 53.8V43.5H398.5V46.5M384.9 44.5V41.5H394.9V43.5M368.6 40.8V36.8H389.9V41.5M412.2 53.8V44.5H416.4V53.8M408.0 53.8V41.5H414.3V44.5M420.6 53.8V43.0H424.8V53.8M411.2 41.5V38.5H422.7V43.0M441.7 53.8V50.0H445.9V53.8M437.5 53.8V48.9H443.8V50.0M433.3 53.8V44.4H440.6V48.9M450.1 53.8V49.4H454.3V53.8M462.7 53.8V51.5H466.9V53.8M458.5 53.8V48.0H464.8V51.5M452.2 49.4V46.3H461.7V48.0M436.9 44.4V42.5H456.9V46.3M471.1 53.8V48.8H475.3V53.8M479.5 53.8V51.4H483.7V53.8M473.2 48.8V45.5H481.6V51.4M488.0 53.8V48.7H492.2V53.8M496.4 53.8V51.5H500.6V53.8M498.5 51.5V49.6H504.8V53.8M501.6 49.6V47.9H509.0V53.8M490.1 48.7V46.8H505.3V47.9M477.4 45.5V41.5H497.7V46.8M446.9 42.5V40.3H487.6V41.5M429.0 53.8V36.3H467.2V40.3M417.0 38.5V33.7H448.1V36.3M379.2 36.8V32.2H432.5V33.7M352.3 35.6V30.4H405.9V32.2M272.7 28.0V14.1H379.1V30.4" fill="none" stroke="#3a3a3a" stroke-width="0.7"/>
<path d="M237.6 67.6H230.0V67.7H237.6M230.0 67.6H226.3V67.8H237.6M237.6 67.5H225.8V67.7H226.3M237.6 68.0H228.3V68.1H237.6M237.6 67.9H226.2V68.1H228.3M225.8 67.6H221.5V68.0H226.2M237.6 68.3H229.8V68.4H237.6M237.6 68.6H227.0V68.7H237.6M237.6 68.9H227.1V69.0H237.6M237.6 68.8H224.5V68.9H227.1M227.0 68.6H220.0V68.9H224.5M229.8 68.4H219.3V68.7H220.0M237.6 68.2H218.5V68.6H219.3M221.5 67.8H215.4V68.4H218.5M237.6 69.2H229.5V69.3H237.6M237.6 69.1H226.5V69.3H229.5M237.6 69.7H229.4V69.8H237.6M237.6 69.6H225.5V69.7H229.4M237.6 69.4H225.0V69.6H225.5M226.5 69.2H222.0V69.5H225.0M237.6 69.9H229.5V70.0H237.6M222.0 69.4H221.4V69.9H229.5M215.4 68.1H214.5V69.7H221.4M237.6 70.1H230.6V70.2H237.6M237.6 70.3H230.4V70.4H237.6M230.6 70.2H223.6V70.4H230.4M223.6 70.3H219.0V70.5H237.6M237.6 70.8H227.8V70.9H237.6M237.6 70.7H227.3V70.8H227.8M219.0 70.4H215.1V70.7H227.3M237.6 71.0H227.1V71.1H237.6M237.6 71.4H230.3V71.5H237.6M237.6 71.3H225.7V71.5H230.3M237.6 71.2H223.3V71.4H225.7M223.3 71.3H222.7V71.6H237.6M237.6 71.8H226.9V71.9H237.6M226.9 71.8H225.5V72.0H237.6M222.7 71.5H222.1V71.9H225.5M227.1 71.0H219.9V71.7H222.1M237.6 72.2H229.1V72.3H237.6M237.6 72.4H229.7V72.5H237.6M229.1 72.3H220.6V72.5H229.7M237.6 72.1H219.9V72.4H220.6M219.9 71.4H219.1V72.2H219.9M237.6 72.6H227.1V72.7H237.6M227.1 72.7H224.3V72.9H237.6M237.6 73.0H230.2V73.1H237.6M230.2 73.0H226.7V73.2H237.6M224.3 72.8H223.8V73.1H226.7M223.8 72.9H220.5V73.3H237.6M237.6 73.4H227.4V73.5H237.6M237.6 73.7H227.9V73.9H237.6M237.6 73.6H224.9V73.8H227.9M224.9 73.7H224.1V74.0H237.6M224.1 73.8H223.5V74.1H237.6M227.4 73.5H222.9V74.0H223.5M220.5 73.1H219.8V73.7H222.9M219.1 71.8H218.4V73.4H219.8M237.6 74.2H229.1V74.3H237.6M237.6 74.4H228.7V74.5H237.6M237.6 74.6H229.3V74.7H237.6M228.7 74.5H224.3V74.7H229.3M224.3 74.6H223.8V74.8H237.6M229.1 74.2H220.6V74.7H223.8M218.4 72.6H217.6V74.5H220.6M215.1 70.6H212.0V73.5H217.6M237.6 75.1H228.1V75.2H237.6M237.6 75.3H227.8V75.4H237.6M227.8 75.3H223.0V75.5H237.6M237.6 75.6H229.3V75.7H237.6M223.0 75.4H221.6V75.7H229.3M228.1 75.1H220.5V75.5H221.6M237.6 75.0H219.8V75.3H220.5M237.6 75.8H228.4V75.9H237.6M219.8 75.1H219.0V75.9H228.4M237.6 76.1H227.0V76.2H237.6M227.0 76.1H224.6V76.3H237.6M224.6 76.2H224.1V76.4H237.6M219.0 75.5H218.3V76.3H224.1M237.6 76.5H227.9V76.6H237.6M227.9 76.6H225.4V76.7H237.6M225.4 76.6H224.9V76.8H237.6M237.6 77.1H228.1V77.2H237.6M228.1 77.1H223.1V77.3H237.6M237.6 76.9H220.7V77.2H223.1M224.9 76.7H218.9V77.1H220.7M218.3 75.9H211.9V76.9H218.9M237.6 77.4H228.2V77.5H237.6M237.6 77.6H230.4V77.7H237.6M230.4 77.7H226.2V77.8H237.6M228.2 77.4H224.6V77.7H226.2M237.6 78.0H230.4V78.2H237.6M237.6 77.9H226.5V78.1H230.4M224.6 77.6H218.3V78.0H226.5M237.6 78.3H229.9V78.4H237.6M237.6 78.5H229.2V78.6H237.6M237.6 78.7H228.3V78.8H237.6M229.2 78.5H224.7V78.8H228.3M229.9 78.3H219.4V78.7H224.7M218.3 77.8H217.5V78.5H219.4M211.9 76.4H210.4V78.1H217.5M237.6 79.0H228.3V79.1H237.6M237.6 78.9H225.4V79.1H228.3M225.4 79.0H223.4V79.3H237.6M237.6 79.4H227.6V79.5H237.6M237.6 79.6H228.2V79.7H237.6M227.6 79.4H223.0V79.6H228.2M223.0 79.5H222.4V79.8H237.6M237.6 79.9H228.5V80.0H237.6M237.6 80.1H227.0V80.2H237.6M228.5 80.0H222.3V80.2H227.0M222.4 79.7H221.7V80.1H222.3M223.4 79.1H221.0V79.9H221.7M237.6 80.5H227.3V80.6H237.6M237.6 80.4H225.2V80.5H227.3M221.0 79.5H214.0V80.4H225.2M210.4 77.3H209.2V80.0H214.0M237.6 80.9H229.8V81.0H237.6M237.6 80.8H225.3V81.0H229.8M225.3 80.9H222.0V81.1H237.6M237.6 80.7H220.9V81.0H222.0M237.6 81.5H228.3V81.6H237.6M237.6 81.4H224.8V81.5H228.3M237.6 81.2H219.8V81.4H224.8M237.6 81.7H227.7V81.8H237.6M237.6 81.9H229.6V82.0H237.6M237.6 82.1H227.1V82.2H237.6M229.6 82.0H221.1V82.2H227.1M227.7 81.7H220.4V82.1H221.1M219.8 81.3H219.0V81.9H220.4M237.6 82.3H229.0V82.5H237.6M219.0 81.6H218.2V82.4H229.0M237.6 82.7H226.9V82.8H237.6M237.6 82.6H226.0V82.7H226.9M218.2 82.0H217.4V82.6H226.0M237.6 82.9H228.8V83.0H237.6M228.8 83.0H222.2V83.1H237.6M217.4 82.3H216.5V83.0H222.2M220.9 80.8H215.6V82.7H216.5M209.2 78.6H208.0V81.8H215.6M212.0 72.1H206.8V80.2H208.0M214.5 68.9H205.5V76.1H206.8M237.6 83.2H229.2V83.3H237.6M237.6 83.6H229.7V83.7H237.6M237.6 83.4H223.3V83.6H229.7M229.2 83.3H222.7V83.5H223.3M237.6 83.9H228.4V84.0H237.6M237.6 84.2H227.2V84.3H237.6M237.6 84.1H223.5V84.3H227.2M228.4 83.9H220.6V84.2H223.5M237.6 83.8H219.9V84.1H220.6M237.6 84.4H228.6V84.6H237.6M219.9 83.9H219.1V84.5H228.6M222.7 83.4H218.3V84.2H219.1M237.6 84.7H228.0V84.8H237.6M228.0 84.7H227.0V84.9H237.6M227.0 84.8H224.7V85.0H237.6M237.6 85.1H229.5V85.2H237.6M224.7 84.9H220.1V85.2H229.5M218.3 83.8H212.7V85.0H220.1M237.6 85.3H230.0V85.4H237.6M237.6 85.7H229.7V85.8H237.6M237.6 85.5H224.2V85.7H229.7M230.0 85.4H221.1V85.6H224.2M237.6 86.0H226.9V86.1H237.6M226.9 86.0H223.5V86.2H237.6M237.6 85.9H222.0V86.1H223.5M222.0 86.0H221.4V86.3H237.6M221.1 85.5H220.4V86.2H221.4M237.6 86.6H228.2V86.8H237.6M237.6 86.5H225.5V86.7H228.2M237.6 86.4H225.0V86.6H225.5M220.4 85.8H219.7V86.5H225.0M212.7 84.4H208.5V86.2H219.7M205.5 72.5H204.2V85.3H208.5M237.6 87.0H227.8V87.1H237.6M237.6 87.2H227.3V87.3H237.6M227.8 87.0H225.6V87.3H227.3M237.6 86.9H224.0V87.1H225.6M237.6 87.4H227.2V87.5H237.6M237.6 87.6H228.5V87.7H237.6M227.2 87.5H225.0V87.7H228.5M237.6 87.9H229.6V88.0H237.6M229.6 87.9H224.0V88.1H237.6M225.0 87.6H220.5V88.0H224.0M237.6 88.2H230.4V88.3H237.6M220.5 87.8H218.5V88.2H230.4M237.6 88.4H229.9V88.5H237.6M229.9 88.5H226.1V88.6H237.6M237.6 89.0H229.4V89.1H237.6M237.6 88.9H226.1V89.0H229.4M237.6 89.3H227.9V89.4H237.6M237.6 89.2H223.9V89.3H227.9M226.1 88.9H223.3V89.3H223.9M237.6 88.7H222.7V89.1H223.3M237.6 89.6H229.8V89.7H237.6M229.8 89.7H222.4V89.8H237.6M237.6 89.5H221.7V89.8H222.4M222.7 88.9H219.3V89.6H221.7M226.1 88.5H218.5V89.3H219.3M218.5 88.0H217.8V88.9H218.5M224.0 87.0H216.9V88.5H217.8M237.6 90.0H229.4V90.1H237.6M237.6 90.2H230.1V90.3H237.6M237.6 90.4H229.0V90.5H237.6M229.0 90.5H222.9V90.6H237.6M230.1 90.2H220.6V90.5H222.9M229.4 90.0H218.6V90.4H220.6M237.6 90.9H227.8V91.1H237.6M237.6 91.2H228.3V91.3H237.6M228.3 91.2H227.4V91.4H237.6M227.8 91.0H223.1V91.3H227.4M237.6 90.8H222.5V91.2H223.1M237.6 90.7H220.3V91.0H222.5M237.6 91.5H230.2V91.6H237.6M237.6 91.7H230.0V91.8H237.6M230.2 91.6H225.3V91.8H230.0M220.3 90.9H218.3V91.7H225.3M237.6 91.9H229.6V92.1H237.6M237.6 92.3H228.8V92.4H237.6M237.6 92.2H226.5V92.3H228.8M229.6 92.0H219.1V92.2H226.5M237.6 92.5H228.8V92.6H237.6M237.6 92.7H227.1V92.8H237.6M228.8 92.5H224.0V92.8H227.1M224.0 92.7H223.5V92.9H237.6M223.5 92.8H222.9V93.0H237.6M219.1 92.1H218.3V92.9H222.9M218.3 91.3H217.5V92.5H218.3M218.6 90.2H216.6V91.9H217.5M237.6 93.2H228.1V93.3H237.6M237.6 93.6H230.3V93.7H237.6M237.6 93.5H227.3V93.7H230.3M237.6 93.4H221.4V93.6H227.3M228.1 93.2H218.0V93.5H221.4M216.6 91.0H215.8V93.3H218.0M216.9 87.7H214.9V92.2H215.8M237.6 93.9H227.0V94.0H237.6M237.6 93.8H224.2V94.0H227.0M237.6 94.1H228.2V94.3H237.6M224.2 93.9H223.6V94.2H228.2M237.6 94.4H229.7V94.5H237.6M223.6 94.1H221.2V94.4H229.7M237.6 94.6H228.7V94.7H237.6M228.7 94.6H227.1V94.8H237.6M237.6 95.0H228.8V95.1H237.6M228.8 95.1H227.0V95.3H237.6M237.6 94.9H222.5V95.2H227.0M227.1 94.7H218.3V95.0H222.5M221.2 94.2H217.5V94.9H218.3M237.6 95.5H229.7V95.6H237.6M237.6 95.4H225.7V95.5H229.7M217.5 94.6H214.9V95.4H225.7M214.9 90.0H213.9V95.0H214.9M237.6 95.8H228.7V95.9H237.6M237.6 96.2H228.4V96.4H237.6M228.4 96.3H224.5V96.5H237.6M237.6 96.1H224.0V96.4H224.5M237.6 96.0H222.0V96.3H224.0M228.7 95.9H221.1V96.1H222.0M237.6 95.7H220.4V96.0H221.1M237.6 96.7H228.5V96.8H237.6M237.6 96.6H227.3V96.7H228.5M237.6 96.9H228.9V97.0H237.6M237.6 97.2H229.4V97.3H237.6M237.6 97.1H223.0V97.3H229.4M228.9 97.0H222.4V97.2H223.0M237.6 97.5H227.5V97.6H237.6M227.5 97.5H222.4V97.7H237.6M222.4 97.1H221.8V97.6H222.4M227.3 96.7H221.1V97.3H221.8M220.4 95.8H219.2V97.0H221.1M237.6 97.9H230.4V98.0H237.6M230.4 98.0H226.1V98.1H237.6M237.6 98.2H230.4V98.3H237.6M226.1 98.0H224.0V98.3H230.4M237.6 97.8H223.4V98.2H224.0M237.6 98.4H228.2V98.6H237.6M228.2 98.5H223.3V98.7H237.6M237.6 98.8H227.0V98.9H237.6M227.0 98.8H225.0V99.0H237.6M237.6 99.1H227.5V99.2H237.6M225.0 98.9H222.6V99.2H227.5M223.3 98.6H222.0V99.0H222.6M237.6 99.6H229.6V99.7H237.6M237.6 99.4H227.0V99.6H229.6M237.6 99.3H220.8V99.5H227.0M237.6 99.8H230.4V99.9H237.6M237.6 100.2H227.1V100.3H237.6M227.1 100.3H226.1V100.4H237.6M237.6 100.1H225.6V100.4H226.1M237.6 100.0H221.1V100.2H225.6M230.4 99.8H220.4V100.1H221.1M220.8 99.4H218.3V100.0H220.4M222.0 98.8H217.5V99.7H218.3M223.4 98.0H216.4V99.3H217.5M219.2 96.4H214.1V98.6H216.4M213.9 92.5H204.2V97.5H214.1M204.2 78.9H202.8V95.0H204.2M237.6 100.7H228.9V100.8H237.6M237.6 100.9H227.7V101.0H237.6M228.9 100.7H223.2V100.9H227.7M223.2 100.8H222.6V101.1H237.6M237.6 100.5H220.5V101.0H222.6M237.6 101.3H230.4V101.4H237.6M237.6 101.5H226.9V101.6H237.6M230.4 101.4H221.8V101.6H226.9M237.6 101.2H221.2V101.5H221.8M221.2 101.3H220.5V101.8H237.6M220.5 100.8H219.8V101.6H220.5M237.6 101.9H229.6V102.0H237.6M237.6 102.2H227.8V102.3H237.6M237.6 102.1H226.3V102.3H227.8M229.6 101.9H220.4V102.2H226.3M237.6 102.4H229.7V102.5H237.6M237.6 102.8H230.1V102.9H237.6M237.6 102.6H224.0V102.8H230.1M224.0 102.7H221.8V103.0H237.6M229.7 102.5H221.1V102.8H221.8M220.4 102.0H219.6V102.7H221.1M219.8 101.2H218.9V102.4H219.6M237.6 103.2H229.9V103.3H237.6M229.9 103.2H226.2V103.4H237.6M237.6 103.1H225.7V103.3H226.2M237.6 103.5H228.0V103.6H237.6M237.6 103.7H227.4V103.9H237.6M228.0 103.6H224.9V103.8H227.4M225.7 103.2H222.0V103.7H224.9M218.9 101.8H218.1V103.4H222.0M237.6 104.0H228.8V104.1H237.6M237.6 104.2H228.0V104.3H237.6M228.8 104.0H225.7V104.2H228.0M237.6 104.4H228.4V104.5H237.6M237.6 104.6H228.1V104.7H237.6M228.4 104.5H222.6V104.7H228.1M237.6 104.8H227.6V105.0H237.6M222.6 104.6H221.5V104.9H227.6M237.6 105.1H228.0V105.2H237.6M221.5 104.7H220.8V105.1H228.0M225.7 104.1H220.1V104.9H220.8M237.6 105.3H229.6V105.4H237.6M229.6 105.3H225.7V105.5H237.6M225.7 105.4H222.3V105.6H237.6M237.6 105.8H227.0V105.9H237.6M237.6 106.1H227.2V106.2H237.6M227.0 105.9H221.5V106.1H227.2M237.6 105.7H220.8V106.0H221.5M222.3 105.5H220.1V105.9H220.8M220.1 104.5H219.4V105.7H220.1M237.6 106.4H228.2V106.5H237.6M237.6 106.6H228.5V106.7H237.6M228.5 106.7H225.3V106.8H237.6M237.6 106.9H230.2V107.1H237.6M225.3 106.7H221.1V107.0H230.2M228.2 106.4H220.4V106.9H221.1M237.6 106.3H218.5V106.7H220.4M237.6 107.2H229.1V107.3H237.6M218.5 106.5H215.1V107.2H229.1M237.6 107.4H227.2V107.5H237.6M227.2 107.4H225.7V107.6H237.6M237.6 107.8H227.3V107.9H237.6M227.3 107.9H224.3V108.0H237.6M237.6 107.7H222.7V108.0H224.3M237.6 108.2H229.8V108.3H237.6M222.7 107.8H222.1V108.2H229.8M225.7 107.5H220.3V108.0H222.1M215.1 106.8H214.2V107.8H220.3M237.6 108.5H227.0V108.6H237.6M227.0 108.5H225.9V108.7H237.6M237.6 108.4H222.6V108.6H225.9M237.6 109.0H228.4V109.1H237.6M237.6 108.9H224.5V109.1H228.4M237.6 109.3H229.9V109.4H237.6M224.5 109.0H224.0V109.3H229.9M237.6 108.8H220.8V109.2H224.0M222.6 108.5H220.1V109.0H220.8M214.2 107.3H213.2V108.7H220.1M219.4 105.1H211.5V108.0H213.2M218.1 102.6H210.4V106.6H211.5M237.6 109.5H230.2V109.6H237.6M230.2 109.5H226.9V109.7H237.6M237.6 109.8H227.0V109.9H237.6M227.0 109.9H223.4V110.0H237.6M237.6 110.1H227.0V110.3H237.6M223.4 109.9H222.8V110.2H227.0M237.6 110.4H227.6V110.5H237.6M222.8 110.1H222.2V110.4H227.6M226.9 109.6H221.0V110.2H222.2M237.6 110.6H227.8V110.7H237.6M227.8 110.6H225.3V110.8H237.6M237.6 111.0H228.4V111.1H237.6M237.6 110.9H224.4V111.1H228.4M237.6 111.2H227.1V111.4H237.6M227.1 111.3H224.7V111.5H237.6M224.7 111.4H223.6V111.6H237.6M224.4 111.0H220.9V111.5H223.6M225.3 110.7H220.2V111.2H220.9M221.0 109.9H216.3V111.0H220.2M237.6 111.7H228.7V111.8H237.6M237.6 111.9H229.5V112.0H237.6M229.5 112.0H223.6V112.1H237.6M228.7 111.7H220.4V112.0H223.6M237.6 112.2H229.2V112.3H237.6M220.4 111.9H219.7V112.3H229.2M237.6 112.7H227.3V112.8H237.6M237.6 112.6H226.9V112.7H227.3M237.6 112.5H221.8V112.6H226.9M237.6 113.0H227.6V113.1H237.6M237.6 112.9H222.8V113.1H227.6M237.6 113.3H228.9V113.4H237.6M237.6 113.2H225.4V113.4H228.9M237.6 113.6H230.5V113.7H237.6M225.4 113.3H224.1V113.6H230.5M222.8 113.0H222.2V113.5H224.1M221.8 112.6H220.8V113.2H222.2M237.6 113.8H229.8V113.9H237.6M237.6 114.0H230.4V114.1H237.6M237.6 114.2H229.1V114.3H237.6M230.4 114.1H224.7V114.3H229.1M224.7 114.2H224.2V114.4H237.6M237.6 114.6H230.5V114.7H237.6M230.5 114.6H223.4V114.8H237.6M237.6 114.9H228.2V115.0H237.6M223.4 114.7H222.9V114.9H228.2M224.2 114.3H219.5V114.8H222.9M229.8 113.8H218.8V114.6H219.5M220.8 112.9H218.0V114.2H218.8M219.7 112.1H217.2V113.5H218.0M237.6 115.1H229.0V115.2H237.6M229.0 115.2H226.6V115.3H237.6M226.6 115.2H222.8V115.4H237.6M222.8 115.3H222.2V115.5H237.6M222.2 115.4H218.9V115.7H237.6M237.6 115.9H228.1V116.0H237.6M237.6 115.8H225.9V115.9H228.1M237.6 116.3H229.2V116.4H237.6M237.6 116.2H224.9V116.4H229.2M237.6 116.1H223.0V116.3H224.9M225.9 115.8H221.7V116.2H223.0M221.7 116.0H218.9V116.5H237.6M218.9 115.5H218.1V116.3H218.9M217.2 112.8H216.3V115.9H218.1M216.3 110.5H215.4V114.4H216.3M237.6 116.6H230.5V116.8H237.6M230.5 116.7H226.1V116.9H237.6M237.6 117.0H227.7V117.1H237.6M237.6 117.2H230.0V117.3H237.6M227.7 117.0H224.2V117.3H230.0M237.6 117.4H229.2V117.5H237.6M229.2 117.5H226.9V117.6H237.6M237.6 117.8H230.2V117.9H237.6M226.9 117.6H220.5V117.8H230.2M224.2 117.1H219.8V117.7H220.5M226.1 116.8H219.1V117.4H219.8M237.6 118.0H229.6V118.1H237.6M229.6 118.0H222.1V118.2H237.6M237.6 118.3H229.7V118.4H237.6M222.1 118.1H220.7V118.4H229.7M219.1 117.1H218.3V118.2H220.7M237.6 118.6H229.0V118.7H237.6M229.0 118.7H227.3V118.9H237.6M227.3 118.8H225.2V119.0H237.6M237.6 118.5H224.6V118.9H225.2M218.3 117.7H215.4V118.7H224.6M215.4 112.4H214.5V118.2H215.4M237.6 119.1H228.2V119.2H237.6M237.6 119.3H227.1V119.4H237.6M228.2 119.1H225.8V119.4H227.1M237.6 119.5H229.5V119.6H237.6M229.5 119.6H223.3V119.7H237.6M237.6 119.8H227.1V120.0H237.6M223.3 119.7H222.7V119.9H227.1M225.8 119.2H222.0V119.8H222.7M237.6 120.1H228.9V120.2H237.6M237.6 120.3H227.5V120.4H237.6M227.5 120.3H222.4V120.5H237.6M237.6 120.6H228.8V120.7H237.6M237.6 120.8H228.5V120.9H237.6M228.8 120.7H224.0V120.9H228.5M222.4 120.4H219.9V120.8H224.0M228.9 120.1H219.1V120.6H219.9M222.0 119.5H215.9V120.4H219.1M237.6 121.1H230.3V121.2H237.6M237.6 121.3H229.7V121.4H237.6M237.6 121.5H229.6V121.6H237.6M229.7 121.3H223.1V121.6H229.6M237.6 121.7H229.1V121.8H237.6M223.1 121.4H222.5V121.8H229.1M237.6 122.1H230.1V122.2H237.6M237.6 121.9H226.0V122.1H230.1M222.5 121.6H221.9V122.0H226.0M237.6 122.3H229.6V122.4H237.6M221.9 121.8H221.2V122.3H229.6M230.3 121.1H220.5V122.1H221.2M215.9 119.9H215.0V121.6H220.5M214.5 115.3H213.6V120.8H215.0M237.6 122.5H229.8V122.6H237.6M229.8 122.5H224.1V122.7H237.6M224.1 122.6H222.2V122.8H237.6M237.6 123.0H228.2V123.2H237.6M237.6 123.3H227.3V123.4H237.6M228.2 123.1H225.5V123.3H227.3M237.6 122.9H224.3V123.2H225.5M237.6 123.7H229.8V123.8H237.6M237.6 123.6H223.3V123.8H229.8M237.6 123.9H228.9V124.0H237.6M223.3 123.7H222.7V124.0H228.9M237.6 123.5H222.1V123.8H222.7M237.6 124.3H230.3V124.4H237.6M237.6 124.1H225.8V124.3H230.3M222.1 123.7H220.9V124.2H225.8M237.6 124.7H228.8V124.8H237.6M237.6 124.6H224.3V124.8H228.8M237.6 124.9H229.9V125.0H237.6M224.3 124.7H223.7V125.0H229.9M237.6 124.5H223.1V124.8H223.7M220.9 123.9H220.2V124.7H223.1M224.3 123.1H219.5V124.3H220.2M222.2 122.7H218.8V123.7H219.5M237.6 125.1H228.8V125.3H237.6M237.6 125.4H228.1V125.5H237.6M228.1 125.4H224.5V125.6H237.6M228.8 125.2H219.5V125.5H224.5M237.6 125.8H230.2V125.9H237.6M237.6 125.7H225.5V125.9H230.2M225.5 125.8H225.0V126.0H237.6M219.5 125.3H218.8V125.9H225.0M218.8 123.2H218.0V125.6H218.8M237.6 126.2H230.2V126.4H237.6M237.6 126.5H230.4V126.6H237.6M230.4 126.5H223.9V126.7H237.6M230.2 126.3H220.4V126.6H223.9M237.6 126.1H219.7V126.5H220.4M237.6 126.8H228.2V126.9H237.6M237.6 127.1H229.4V127.2H237.6M237.6 127.0H223.4V127.2H229.4M228.2 126.9H219.7V127.1H223.4M219.7 126.3H218.9V127.0H219.7M237.6 127.3H230.4V127.5H237.6M230.4 127.4H223.5V127.6H237.6M237.6 127.8H229.0V127.9H237.6M237.6 127.7H224.6V127.8H229.0M224.6 127.8H220.4V128.0H237.6M237.6 128.1H228.5V128.2H237.6M237.6 128.3H230.2V128.4H237.6M237.6 128.6H227.7V128.7H237.6M230.2 128.4H221.7V128.6H227.7M237.6 128.9H229.0V129.0H237.6M229.0 128.9H222.4V129.1H237.6M237.6 128.8H221.7V129.0H222.4M221.7 128.5H221.1V128.9H221.7M228.5 128.2H220.4V128.7H221.1M220.4 127.9H219.7V128.4H220.4M223.5 127.5H218.9V128.2H219.7M218.9 126.6H218.1V127.8H218.9M218.0 124.4H210.8V127.2H218.1M213.6 118.0H208.2V125.8H210.8M210.4 104.6H203.5V121.9H208.2M237.6 129.2H230.4V129.3H237.6M237.6 129.4H229.5V129.6H237.6M229.5 129.5H222.4V129.7H237.6M237.6 129.9H228.3V130.0H237.6M228.3 129.9H224.8V130.1H237.6M237.6 129.8H222.3V130.0H224.8M222.4 129.6H216.5V129.9H222.3M230.4 129.3H215.7V129.7H216.5M237.6 130.4H230.0V130.5H237.6M237.6 130.3H222.2V130.5H230.0M237.6 130.2H221.6V130.4H222.2M237.6 131.0H229.3V131.1H237.6M237.6 130.9H224.2V131.0H229.3M237.6 130.8H221.6V131.0H224.2M237.6 130.7H220.5V130.9H221.6M237.6 131.2H228.4V131.3H237.6M237.6 131.4H228.2V131.5H237.6M228.4 131.3H225.1V131.5H228.2M237.6 131.6H227.7V131.8H237.6M225.1 131.4H217.8V131.7H227.7M220.5 130.8H216.6V131.5H217.8M221.6 130.3H215.7V131.1H216.6M215.7 129.5H212.8V130.7H215.7M237.6 131.9H230.1V132.0H237.6M230.1 131.9H225.1V132.1H237.6M237.6 132.3H227.5V132.4H237.6M237.6 132.2H224.5V132.4H227.5M224.5 132.3H224.0V132.5H237.6M224.0 132.4H220.2V132.6H237.6M237.6 132.9H227.9V133.0H237.6M237.6 132.8H227.4V132.9H227.9M220.2 132.5H219.5V132.8H227.4M225.1 132.0H218.7V132.7H219.5M237.6 133.1H230.4V133.2H237.6M230.4 133.1H223.4V133.3H237.6M223.4 133.2H222.8V133.4H237.6M237.6 133.6H229.2V133.7H237.6M229.2 133.7H225.0V133.9H237.6M237.6 133.5H224.5V133.8H225.0M224.5 133.6H223.9V134.0H237.6M237.6 134.1H229.6V134.2H237.6M237.6 134.3H227.8V134.4H237.6M227.8 134.4H227.3V134.5H237.6M229.6 134.1H223.4V134.4H227.3M223.9 133.8H221.8V134.3H223.4M222.8 133.3H215.3V134.0H221.8M237.6 134.6H228.4V134.7H237.6M237.6 134.8H227.8V135.0H237.6M228.4 134.7H224.0V134.9H227.8M237.6 135.2H230.0V135.3H237.6M230.0 135.2H226.0V135.4H237.6M237.6 135.1H221.3V135.3H226.0M224.0 134.8H216.5V135.2H221.3M215.3 133.7H212.8V135.0H216.5M218.7 132.3H211.8V134.3H212.8M212.8 130.1H210.7V133.3H211.8M237.6 135.5H227.5V135.6H237.6M237.6 135.7H228.3V135.8H237.6M227.5 135.6H221.8V135.8H228.3M221.8 135.7H221.2V135.9H237.6M237.6 136.1H229.8V136.2H237.6M229.8 136.1H227.3V136.3H237.6M237.6 136.4H227.3V136.5H237.6M227.3 136.2H224.6V136.4H227.3M221.2 135.8H218.2V136.3H224.6M237.6 136.7H230.6V136.8H237.6M237.6 136.6H225.4V136.8H230.6M237.6 137.1H227.0V137.2H237.6M237.6 136.9H223.4V137.1H227.0M237.6 137.3H229.1V137.4H237.6M237.6 137.5H230.5V137.6H237.6M229.1 137.3H224.6V137.5H230.5M237.6 137.7H229.1V137.8H237.6M224.6 137.4H222.2V137.8H229.1M223.4 137.0H221.6V137.6H222.2M225.4 136.7H214.3V137.3H221.6M218.2 136.1H211.9V137.0H214.3M237.6 137.9H227.5V138.0H237.6M237.6 138.2H229.2V138.3H237.6M227.5 138.0H222.3V138.2H229.2M237.6 138.4H229.9V138.5H237.6M222.3 138.1H221.6V138.4H229.9M237.6 138.8H230.6V138.9H237.6M237.6 138.7H225.1V138.9H230.6M237.6 138.6H224.1V138.8H225.1M237.6 139.1H228.3V139.3H237.6M228.3 139.2H224.9V139.4H237.6M224.9 139.3H223.7V139.5H237.6M237.6 139.7H229.0V139.8H237.6M237.6 139.6H224.8V139.8H229.0M223.7 139.4H223.1V139.7H224.8M237.6 139.0H222.5V139.5H223.1M237.6 139.9H230.0V140.0H237.6M222.5 139.3H221.9V140.0H230.0M237.6 140.1H229.4V140.3H237.6M221.9 139.6H221.2V140.2H229.4M224.1 138.7H218.0V139.9H221.2M221.6 138.3H216.8V139.3H218.0M237.6 140.4H227.5V140.5H237.6M237.6 140.6H228.1V140.7H237.6M237.6 140.8H229.1V140.9H237.6M229.1 140.9H224.8V141.0H237.6M228.1 140.6H224.3V140.9H224.8M227.5 140.4H220.0V140.8H224.3M216.8 138.8H215.9V140.6H220.0M237.6 141.1H230.4V141.2H237.6M237.6 141.4H228.7V141.5H237.6M230.4 141.2H221.9V141.4H228.7M237.6 141.7H228.1V141.8H237.6M237.6 141.6H225.9V141.7H228.1M237.6 142.0H229.3V142.1H237.6M237.6 141.9H225.8V142.1H229.3M225.8 142.0H225.3V142.2H237.6M237.6 142.6H230.2V142.7H237.6M237.6 142.8H227.4V142.9H237.6M230.2 142.6H223.0V142.8H227.4M237.6 142.5H222.4V142.7H223.0M237.6 142.3H221.8V142.6H222.4M225.3 142.1H220.5V142.5H221.8M225.9 141.7H219.7V142.3H220.5M221.9 141.3H219.0V142.0H219.7M237.6 143.0H229.5V143.1H237.6M237.6 143.2H229.3V143.3H237.6M229.3 143.3H225.9V143.5H237.6M229.5 143.1H218.8V143.4H225.9M237.6 143.6H228.1V143.7H237.6M237.6 143.8H228.3V143.9H237.6M228.1 143.6H224.9V143.8H228.3M224.9 143.7H224.4V144.0H237.6M218.8 143.2H217.6V143.9H224.4M219.0 141.6H216.8V143.5H217.6M237.6 144.1H229.0V144.2H237.6M237.6 144.4H228.9V144.6H237.6M237.6 144.3H224.1V144.5H228.9M237.6 144.8H227.2V144.9H237.6M227.2 144.8H226.8V145.0H237.6M237.6 144.7H222.2V144.9H226.8M224.1 144.4H220.5V144.8H222.2M229.0 144.2H219.8V144.6H220.5M216.8 142.6H215.9V144.4H219.8M215.9 139.7H215.0V143.5H215.9M237.6 145.1H230.5V145.2H237.6M237.6 145.3H228.9V145.4H237.6M230.5 145.2H222.0V145.4H228.9M237.6 145.5H228.8V145.7H237.6M237.6 145.9H227.7V146.0H237.6M237.6 146.2H227.4V146.3H237.6M237.6 146.1H222.9V146.3H227.4M227.7 145.9H222.3V146.2H222.9M237.6 145.8H221.7V146.1H222.3M228.8 145.6H219.1V145.9H221.7M237.6 146.5H227.8V146.6H237.6M237.6 146.4H222.8V146.6H227.8M219.1 145.8H218.3V146.5H222.8M237.6 146.9H227.1V147.0H237.6M237.6 146.8H225.9V146.9H227.1M237.6 147.2H228.3V147.3H237.6M237.6 147.1H226.4V147.3H228.3M225.9 146.8H218.3V147.2H226.4M218.3 146.1H217.5V147.0H218.3M222.0 145.3H215.0V146.6H217.5M215.0 141.6H214.1V145.9H215.0M237.6 147.5H228.7V147.6H237.6M237.6 147.4H222.9V147.6H228.7M237.6 147.9H227.1V148.0H237.6M237.6 147.8H225.5V147.9H227.1M237.6 148.1H229.6V148.2H237.6M237.6 148.3H228.6V148.4H237.6M229.6 148.1H222.1V148.4H228.6M225.5 147.8H217.8V148.2H222.1M237.6 148.5H228.9V148.6H237.6M237.6 148.9H227.6V149.0H237.6M237.6 148.7H227.2V148.9H227.6M228.9 148.6H219.4V148.8H227.2M219.4 148.7H218.3V149.1H237.6M217.8 148.0H217.0V148.9H218.3M222.9 147.5H216.2V148.5H217.0M237.6 149.2H227.5V149.3H237.6M227.5 149.2H226.0V149.4H237.6M226.0 149.3H225.5V149.5H237.6M237.6 149.7H229.9V149.8H237.6M237.6 149.6H226.5V149.8H229.9M237.6 150.0H230.6V150.1H237.6M237.6 150.2H227.9V150.3H237.6M227.9 150.2H225.7V150.4H237.6M230.6 150.0H222.9V150.3H225.7M226.5 149.7H221.9V150.2H222.9M225.5 149.4H218.8V149.9H221.9M216.2 148.0H214.1V149.7H218.8M214.1 143.8H213.1V148.8H214.1M211.9 136.5H202.9V146.3H213.1M210.7 131.7H201.5V141.4H202.9M237.6 150.5H229.4V150.6H237.6M229.4 150.6H224.2V150.7H237.6M224.2 150.6H223.7V150.8H237.6M223.7 150.7H223.1V151.0H237.6M237.6 151.4H229.7V151.5H237.6M237.6 151.3H227.4V151.4H229.7M237.6 151.2H223.3V151.4H227.4M237.6 151.1H222.7V151.3H223.3M237.6 151.6H230.0V151.7H237.6M222.7 151.2H218.5V151.7H230.0M237.6 151.8H227.2V151.9H237.6M237.6 152.1H228.2V152.2H237.6M228.2 152.1H224.5V152.3H237.6M237.6 152.4H228.8V152.5H237.6M224.5 152.2H223.9V152.4H228.8M227.2 151.9H221.2V152.3H223.9M237.6 152.7H230.2V152.8H237.6M237.6 152.9H227.8V153.0H237.6M230.2 152.8H223.0V153.0H227.8M237.6 152.6H219.8V152.9H223.0M221.2 152.1H217.2V152.7H219.8M218.5 151.4H216.3V152.4H217.2M223.1 150.8H214.5V151.9H216.3M237.6 153.3H228.5V153.4H237.6M237.6 153.2H223.9V153.3H228.5M237.6 153.5H230.1V153.6H237.6M223.9 153.2H222.9V153.5H230.1M237.6 153.7H230.5V153.8H237.6M237.6 153.9H227.2V154.0H237.6M237.6 154.1H228.3V154.3H237.6M228.3 154.2H227.0V154.4H237.6M227.2 154.0H223.8V154.3H227.0M230.5 153.8H223.2V154.1H223.8M237.6 154.5H228.7V154.6H237.6M223.2 153.9H218.4V154.5H228.7M222.9 153.4H217.3V154.2H218.4M237.6 154.9H230.0V155.0H237.6M237.6 154.8H224.8V155.0H230.0M237.6 154.7H220.3V154.9H224.8M237.6 155.3H228.7V155.4H237.6M237.6 155.1H222.2V155.3H228.7M237.6 155.5H228.3V155.6H237.6M222.2 155.2H221.5V155.5H228.3M237.6 155.7H228.6V155.8H237.6M221.5 155.4H220.0V155.7H228.6M220.3 154.8H217.3V155.6H220.0M217.3 153.8H216.5V155.2H217.3M237.6 155.9H228.3V156.0H237.6M237.6 156.1H230.4V156.2H237.6M228.3 156.0H221.5V156.2H230.4M237.6 156.4H229.7V156.5H237.6M221.5 156.1H218.1V156.4H229.7M237.6 156.6H227.9V156.7H237.6M237.6 156.8H227.7V156.9H237.6M227.9 156.6H221.5V156.9H227.7M218.1 156.2H217.3V156.7H221.5M237.6 157.0H227.9V157.1H237.6M237.6 157.2H227.6V157.3H237.6M227.6 157.3H223.8V157.5H237.6M223.8 157.4H220.6V157.6H237.6M227.9 157.1H219.9V157.5H220.6M237.6 157.7H228.8V157.8H237.6M237.6 157.9H227.2V158.0H237.6M237.6 158.1H227.1V158.2H237.6M227.2 158.0H225.5V158.2H227.1M225.5 158.1H220.3V158.3H237.6M220.3 158.2H219.5V158.5H237.6M228.8 157.7H218.1V158.3H219.5M219.9 157.3H217.3V158.0H218.1M217.3 156.5H216.5V157.7H217.3M216.5 154.5H215.6V157.1H216.5M214.5 151.4H212.5V155.8H215.6M237.6 158.6H229.9V158.7H237.6M237.6 158.8H228.5V158.9H237.6M228.5 158.8H223.0V159.0H237.6M237.6 159.1H229.4V159.2H237.6M237.6 159.4H230.2V159.6H237.6M237.6 159.3H226.0V159.5H230.2M229.4 159.2H223.1V159.4H226.0M223.0 158.9H220.7V159.3H223.1M229.9 158.6H220.0V159.1H220.7M237.6 159.7H228.7V159.8H237.6M220.0 158.9H219.2V159.7H228.7M237.6 159.9H229.5V160.0H237.6M237.6 160.3H230.1V160.4H237.6M237.6 160.2H224.5V160.4H230.1M237.6 160.1H223.6V160.3H224.5M229.5 159.9H223.0V160.2H223.6M237.6 160.5H229.3V160.7H237.6M223.0 160.1H222.4V160.6H229.3M219.2 159.3H218.5V160.3H222.4M237.6 160.8H227.7V160.9H237.6M237.6 161.0H228.6V161.1H237.6M227.7 160.8H222.8V161.0H228.6M218.5 159.8H217.7V160.9H222.8M237.6 161.3H228.9V161.4H237.6M237.6 161.2H225.0V161.4H228.9M237.6 161.5H230.6V161.6H237.6M225.0 161.3H224.5V161.6H230.6M224.5 161.4H224.0V161.8H237.6M237.6 161.9H226.9V162.0H237.6M237.6 162.2H228.8V162.3H237.6M228.8 162.3H224.9V162.4H237.6M237.6 162.5H229.4V162.6H237.6M224.9 162.3H222.4V162.6H229.4M237.6 162.1H221.7V162.5H222.4M226.9 161.9H221.1V162.3H221.7M224.0 161.6H220.4V162.1H221.1M237.6 162.9H229.0V163.0H237.6M237.6 162.8H222.5V162.9H229.0M220.4 161.9H217.7V162.8H222.5M217.7 160.4H216.8V162.3H217.7M237.6 163.1H229.2V163.2H237.6M229.2 163.1H223.7V163.3H237.6M237.6 163.5H230.1V163.6H237.6M237.6 163.4H223.7V163.6H230.1M223.7 163.2H217.7V163.5H223.7M237.6 163.7H228.1V163.9H237.6M237.6 164.1H230.3V164.2H237.6M237.6 164.0H224.8V164.1H230.3M224.8 164.0H222.8V164.3H237.6M237.6 164.5H227.3V164.6H237.6M237.6 164.4H225.8V164.6H227.3M237.6 164.7H230.4V164.8H237.6M230.4 164.8H223.5V165.0H237.6M225.8 164.5H222.5V164.9H223.5M222.8 164.2H219.0V164.7H222.5M228.1 163.8H217.7V164.4H219.0M217.7 163.4H216.8V164.1H217.7M216.8 161.4H216.0V163.7H216.8M212.5 153.6H208.8V162.5H216.0M237.6 165.1H228.9V165.2H237.6M237.6 165.3H227.4V165.4H237.6M227.4 165.3H223.5V165.5H237.6M237.6 165.6H229.5V165.7H237.6M229.5 165.7H226.7V165.8H237.6M223.5 165.4H222.9V165.8H226.7M228.9 165.1H222.3V165.6H222.9M237.6 166.2H229.3V166.3H237.6M237.6 166.1H223.4V166.2H229.3M237.6 166.4H228.1V166.5H237.6M223.4 166.1H222.8V166.4H228.1M237.6 166.0H218.7V166.3H222.8M218.7 166.1H216.6V166.6H237.6M237.6 166.8H229.1V166.9H237.6M237.6 166.7H224.6V166.9H229.1M237.6 167.3H227.8V167.4H237.6M227.8 167.3H226.3V167.5H237.6M237.6 167.2H221.2V167.4H226.3M237.6 167.1H220.5V167.3H221.2M237.6 167.7H227.9V167.8H237.6M237.6 167.6H222.3V167.8H227.9M220.5 167.2H219.8V167.7H222.3M224.6 166.8H216.6V167.4H219.8M216.6 166.4H215.7V167.1H216.6M222.3 165.4H214.8V166.7H215.7M237.6 168.0H227.0V168.2H237.6M237.6 167.9H226.2V168.1H227.0M237.6 168.3H229.1V168.4H237.6M237.6 168.5H230.0V168.6H237.6M237.6 168.7H227.3V168.8H237.6M230.0 168.5H224.2V168.8H227.3M229.1 168.3H223.2V168.7H224.2M226.2 168.0H220.6V168.5H223.2M214.8 166.1H213.9V168.3H220.6M208.8 158.1H207.6V167.2H213.9M201.5 136.6H200.0V162.6H207.6M237.6 168.9H229.9V169.0H237.6M229.9 169.0H224.2V169.1H237.6M237.6 169.3H227.6V169.4H237.6M224.2 169.1H219.3V169.3H227.6M237.6 169.6H229.6V169.7H237.6M237.6 169.8H229.3V169.9H237.6M229.3 169.9H227.2V170.0H237.6M229.6 169.6H220.1V169.9H227.2M237.6 169.5H218.3V169.8H220.1M219.3 169.2H217.5V169.6H218.3M237.6 170.4H228.4V170.5H237.6M237.6 170.3H222.0V170.4H228.4M237.6 170.1H220.3V170.3H222.0M237.6 170.7H227.3V170.8H237.6M237.6 170.6H223.6V170.7H227.3M220.3 170.2H216.8V170.7H223.6M217.5 169.4H216.0V170.5H216.8M237.6 171.0H229.6V171.1H237.6M237.6 170.9H224.0V171.1H229.6M237.6 171.2H228.5V171.4H237.6M237.6 171.6H230.2V171.7H237.6M237.6 171.5H223.8V171.6H230.2M228.5 171.3H222.4V171.5H223.8M222.4 171.4H221.8V171.8H237.6M224.0 171.0H221.2V171.6H221.8M237.6 171.9H226.9V172.0H237.6M226.9 172.0H222.1V172.1H237.6M237.6 172.2H228.3V172.3H237.6M222.1 172.0H219.1V172.3H228.3M221.2 171.3H216.4V172.2H219.1M216.0 169.9H215.1V171.7H216.4M237.6 172.7H230.1V172.8H237.6M237.6 172.6H223.4V172.7H230.1M237.6 172.5H222.3V172.7H223.4M237.6 172.9H227.7V173.0H237.6M227.7 173.0H226.8V173.1H237.6M222.3 172.6H220.6V173.0H226.8M237.6 173.3H228.1V173.5H237.6M237.6 173.7H228.4V173.8H237.6M237.6 173.6H223.6V173.7H228.4M228.1 173.4H221.3V173.6H223.6M237.6 173.2H220.6V173.5H221.3M220.6 172.8H219.9V173.4H220.6M237.6 174.0H228.3V174.1H237.6M228.3 174.1H226.1V174.2H237.6M237.6 173.9H223.2V174.1H226.1M237.6 174.3H228.4V174.4H237.6M223.2 174.0H217.3V174.4H228.4M237.6 174.6H228.2V174.7H237.6M237.6 174.8H228.3V174.9H237.6M228.2 174.6H224.5V174.8H228.3M217.3 174.2H216.4V174.7H224.5M219.9 173.1H215.5V174.5H216.4M237.6 175.0H228.8V175.1H237.6M237.6 175.2H227.5V175.3H237.6M228.8 175.1H223.7V175.3H227.5M237.6 175.5H227.1V175.7H237.6M237.6 175.8H229.4V175.9H237.6M227.1 175.6H224.9V175.8H229.4M237.6 175.4H224.4V175.7H224.9M224.4 175.6H223.8V176.0H237.6M237.6 176.1H228.6V176.2H237.6M223.8 175.8H218.4V176.2H228.6M237.6 176.3H229.1V176.4H237.6M237.6 176.5H230.1V176.6H237.6M229.1 176.4H223.3V176.6H230.1M218.4 176.0H217.6V176.5H223.3M223.7 175.2H216.8V176.2H217.6M237.6 176.8H226.9V176.9H237.6M237.6 177.0H229.9V177.1H237.6M226.9 176.8H223.8V177.0H229.9M237.6 177.2H229.7V177.3H237.6M223.8 176.9H223.2V177.3H229.7M223.2 177.1H222.6V177.4H237.6M237.6 177.5H229.9V177.6H237.6M222.6 177.3H222.0V177.6H229.9M216.8 175.7H214.8V177.4H222.0M215.5 173.8H213.9V176.6H214.8M215.1 170.8H212.9V175.2H213.9M237.6 177.8H229.6V177.9H237.6M237.6 178.0H228.1V178.1H237.6M237.6 178.2H229.4V178.3H237.6M228.1 178.0H224.2V178.2H229.4M229.6 177.8H223.6V178.1H224.2M237.6 178.4H228.5V178.5H237.6M228.5 178.5H226.4V178.6H237.6M226.4 178.6H225.9V178.7H237.6M223.6 178.0H220.6V178.6H225.9M237.6 178.9H230.2V179.0H237.6M237.6 179.3H230.2V179.4H237.6M237.6 179.2H223.1V179.4H230.2M237.6 179.5H228.0V179.6H237.6M223.1 179.3H222.5V179.6H228.0M237.6 179.1H221.8V179.4H222.5M230.2 178.9H221.2V179.2H221.8M220.6 178.3H214.2V179.1H221.2M237.6 179.7H228.0V179.8H237.6M237.6 180.0H229.6V180.1H237.6M228.0 179.8H221.4V180.0H229.6M237.6 180.2H230.1V180.3H237.6M230.1 180.2H224.4V180.4H237.6M237.6 180.5H229.3V180.6H237.6M237.6 180.7H227.0V180.8H237.6M227.0 180.8H225.7V181.0H237.6M225.7 180.9H225.2V181.1H237.6M229.3 180.6H220.9V181.0H225.2M224.4 180.3H219.4V180.8H220.9M221.4 179.9H218.7V180.5H219.4M237.6 181.3H229.0V181.4H237.6M237.6 181.2H226.4V181.3H229.0M218.7 180.2H217.9V181.3H226.4M237.6 181.7H228.1V181.8H237.6M237.6 181.6H225.6V181.8H228.1M237.6 181.5H224.6V181.7H225.6M217.9 180.7H217.0V181.6H224.6M237.6 181.9H229.0V182.1H237.6M237.6 182.2H227.7V182.3H237.6M237.6 182.5H227.1V182.6H237.6M237.6 182.4H224.8V182.6H227.1M224.8 182.5H224.2V182.7H237.6M227.7 182.2H223.5V182.6H224.2M229.0 182.0H220.8V182.4H223.5M237.6 182.9H230.5V183.0H237.6M237.6 182.8H223.5V183.0H230.5M223.5 182.9H221.2V183.2H237.6M237.6 183.4H228.9V183.5H237.6M237.6 183.3H225.4V183.4H228.9M237.6 183.6H228.3V183.7H237.6M228.3 183.7H223.6V183.8H237.6M223.6 183.7H222.3V183.9H237.6M225.4 183.4H220.9V183.8H222.3M221.2 183.0H220.2V183.6H220.9M237.6 184.0H228.9V184.2H237.6M228.9 184.1H224.4V184.3H237.6M220.2 183.3H219.5V184.2H224.4M220.8 182.2H215.8V183.7H219.5M217.0 181.2H209.9V183.0H215.8M214.2 178.7H208.7V182.1H209.9M237.6 184.7H230.1V184.8H237.6M237.6 184.6H226.8V184.8H230.1M237.6 184.5H224.8V184.7H226.8M224.8 184.6H224.2V184.9H237.6M237.6 184.4H223.7V184.7H224.2M223.7 184.6H217.7V185.0H237.6M237.6 185.1H226.9V185.3H237.6M217.7 184.8H216.9V185.2H226.9M237.6 185.5H227.3V185.6H237.6M227.3 185.5H225.4V185.7H237.6M237.6 185.4H224.9V185.6H225.4M237.6 185.9H227.6V186.0H237.6M237.6 185.8H225.3V186.0H227.6M237.6 186.2H227.7V186.4H237.6M227.7 186.3H226.2V186.5H237.6M237.6 186.1H222.0V186.4H226.2M225.3 185.9H221.3V186.3H222.0M237.6 186.8H229.0V186.9H237.6M237.6 186.7H225.3V186.9H229.0M237.6 186.6H223.3V186.8H225.3M221.3 186.1H217.0V186.7H223.3M224.9 185.5H216.1V186.4H217.0M216.9 185.0H213.6V185.9H216.1M237.6 187.0H230.0V187.1H237.6M230.0 187.1H225.9V187.2H237.6M237.6 187.5H228.1V187.6H237.6M237.6 187.3H225.5V187.5H228.1M225.9 187.2H219.7V187.4H225.5M213.6 185.5H212.3V187.3H219.7M208.7 180.4H207.5V186.4H212.3M212.9 173.0H204.0V183.4H207.5M237.6 187.8H228.3V187.9H237.6M237.6 187.7H225.8V187.8H228.3M237.6 188.1H228.6V188.2H237.6M237.6 188.0H224.8V188.2H228.6M225.8 187.8H222.3V188.1H224.8M237.6 188.5H229.7V188.6H237.6M237.6 188.3H226.0V188.5H229.7M237.6 188.7H228.8V188.8H237.6M226.0 188.4H223.8V188.7H228.8M223.8 188.6H222.2V188.9H237.6M237.6 189.1H229.2V189.2H237.6M229.2 189.2H226.6V189.3H237.6M237.6 189.0H224.4V189.3H226.6M222.2 188.7H216.5V189.1H224.4M222.3 187.9H213.8V188.9H216.5M237.6 189.7H227.0V189.8H237.6M237.6 189.6H226.6V189.7H227.0M226.6 189.6H223.2V189.9H237.6M237.6 189.4H220.4V189.8H223.2M237.6 190.0H230.4V190.1H237.6M230.4 190.1H223.8V190.2H237.6M220.4 189.6H219.7V190.1H223.8M237.6 190.3H229.0V190.4H237.6M229.0 190.4H223.1V190.5H237.6M223.1 190.5H219.7V190.7H237.6M219.7 189.9H214.9V190.6H219.7M237.6 190.9H230.0V191.0H237.6M230.0 190.9H225.5V191.1H237.6M225.5 191.0H225.0V191.2H237.6M237.6 190.8H223.1V191.1H225.0M223.1 190.9H222.5V191.3H237.6M214.9 190.2H213.9V191.1H222.5M213.8 188.4H212.8V190.7H213.9M237.6 191.4H228.9V191.5H237.6M237.6 191.7H229.4V191.8H237.6M228.9 191.5H223.2V191.7H229.4M237.6 191.9H228.8V192.0H237.6M223.2 191.6H218.5V191.9H228.8M237.6 192.2H227.3V192.3H237.6M237.6 192.1H223.7V192.3H227.3M237.6 192.4H228.3V192.5H237.6M237.6 192.6H229.1V192.8H237.6M229.1 192.7H226.0V192.9H237.6M226.0 192.8H220.6V193.0H237.6M237.6 193.2H227.3V193.3H237.6M237.6 193.1H224.2V193.2H227.3M224.2 193.2H222.0V193.4H237.6M220.6 192.9H219.8V193.3H222.0M228.3 192.5H218.8V193.1H219.8M223.7 192.2H218.0V192.8H218.8M218.5 191.8H217.2V192.5H218.0M237.6 193.5H227.0V193.6H237.6M237.6 193.7H228.0V193.9H237.6M227.0 193.6H222.5V193.8H228.0M237.6 194.0H229.2V194.1H237.6M229.2 194.0H225.8V194.2H237.6M222.5 193.7H218.4V194.1H225.8M237.6 194.3H227.7V194.4H237.6M237.6 194.5H229.1V194.6H237.6M227.7 194.4H223.9V194.6H229.1M218.4 193.9H217.6V194.5H223.9M217.2 192.1H216.3V194.2H217.6M212.8 189.6H209.8V193.1H216.3M237.6 194.8H229.5V195.0H237.6M237.6 194.7H222.6V194.9H229.5M237.6 195.1H229.8V195.2H237.6M237.6 195.3H228.3V195.4H237.6M237.6 195.6H227.8V195.7H237.6M237.6 195.5H224.6V195.7H227.8M224.6 195.6H224.0V195.8H237.6M228.3 195.3H221.1V195.7H224.0M229.8 195.1H219.1V195.5H221.1M222.6 194.8H218.4V195.3H219.1M237.6 196.0H227.8V196.1H237.6M227.8 196.0H225.1V196.2H237.6M225.1 196.1H223.3V196.3H237.6M218.4 195.1H217.6V196.2H223.3M237.6 196.5H230.5V196.6H237.6M237.6 196.4H226.5V196.6H230.5M226.5 196.5H224.0V196.7H237.6M237.6 196.9H227.0V197.1H237.6M237.6 196.8H225.4V197.0H227.0M237.6 197.2H229.1V197.3H237.6M225.4 196.9H221.7V197.2H229.1M237.6 197.4H228.2V197.5H237.6M221.7 197.1H220.0V197.4H228.2M224.0 196.6H217.8V197.3H220.0M237.6 197.6H230.1V197.7H237.6M237.6 197.8H229.2V197.9H237.6M237.6 198.2H226.9V198.3H237.6M237.6 198.0H223.4V198.2H226.9M229.2 197.9H222.9V198.1H223.4M230.1 197.7H222.2V198.0H222.9M237.6 198.4H229.7V198.5H237.6M229.7 198.4H222.6V198.6H237.6M222.6 198.5H221.4V198.7H237.6M222.2 197.8H220.7V198.6H221.4M237.6 198.8H230.0V198.9H237.6M237.6 199.0H228.8V199.2H237.6M228.8 199.1H222.4V199.3H237.6M230.0 198.9H220.7V199.2H222.4M220.7 198.2H220.0V199.0H220.7M217.8 196.9H217.0V198.6H220.0M237.6 199.5H228.6V199.6H237.6M228.6 199.5H225.6V199.7H237.6M237.6 199.4H222.4V199.6H225.6M237.6 199.8H226.9V199.9H237.6M226.9 199.9H224.5V200.0H237.6M222.4 199.5H221.8V200.0H224.5M221.8 199.7H221.2V200.1H237.6M237.6 200.4H228.9V200.5H237.6M237.6 200.3H223.1V200.4H228.9M221.2 199.9H220.5V200.3H223.1M237.6 200.6H229.8V200.7H237.6M220.5 200.1H219.7V200.6H229.8M217.0 197.8H216.2V200.4H219.7M217.6 195.6H214.6V199.1H216.2M209.8 191.4H207.3V197.4H214.6M237.6 200.9H227.1V201.0H237.6M237.6 200.8H224.7V201.0H227.1M237.6 201.2H230.0V201.4H237.6M230.0 201.3H224.1V201.5H237.6M237.6 201.6H229.3V201.7H237.6M224.1 201.4H223.5V201.6H229.3M237.6 201.1H220.8V201.5H223.5M237.6 201.8H228.5V201.9H237.6M228.5 201.9H225.2V202.0H237.6M220.8 201.3H220.1V201.9H225.2M224.7 200.9H215.8V201.6H220.1M237.6 202.2H230.3V202.3H237.6M237.6 202.5H230.3V202.6H237.6M230.3 202.3H224.2V202.5H230.3M237.6 202.1H219.8V202.4H224.2M215.8 201.3H214.9V202.3H219.8M237.6 202.8H229.3V202.9H237.6M229.3 202.8H223.1V203.0H237.6M237.6 202.7H222.5V202.9H223.1M222.5 202.8H221.8V203.1H237.6M237.6 203.3H228.4V203.5H237.6M228.4 203.4H224.0V203.6H237.6M237.6 203.2H223.5V203.5H224.0M221.8 203.0H216.7V203.4H223.5M237.6 203.7H227.9V203.8H237.6M237.6 203.9H228.8V204.0H237.6M237.6 204.1H229.5V204.2H237.6M228.8 203.9H225.2V204.2H229.5M227.9 203.7H217.1V204.1H225.2M237.6 204.3H227.8V204.4H237.6M217.1 203.9H215.9V204.4H227.8M216.7 203.2H214.9V204.1H215.9M214.9 201.8H214.0V203.7H214.9M207.3 194.4H206.0V202.7H214.0M202.8 86.9H188.7V113.3H203.5M188.7 100.1H177.2V149.6H200.0M204.0 178.2H180.4V198.5H206.0M177.2 124.8H159.8V188.4H180.4" fill="none" stroke="#000" stroke-width="0.4"/>
<text font-size="7.5" text-anchor="middle" fill="#222" transform="translate(156.2,135.4) rotate(-90) skewX(-12)">1243 CpG sites</text>
<g><rect x="279.86" y="212.45" width="3.76" height="6.91" fill="#e26b0a"/><rect x="296.89" y="212.45" width="3.76" height="6.91" fill="#c00000"/><rect x="301.15" y="212.45" width="3.76" height="6.91" fill="#c00000"/><rect x="305.41" y="212.45" width="3.76" height="6.91" fill="#c00000"/><rect x="352.23" y="212.45" width="3.76" height="6.91" fill="#e26b0a"/><rect x="356.49" y="212.45" width="3.76" height="6.91" fill="#e26b0a"/><rect x="437.37" y="212.45" width="3.76" height="6.91" fill="#c00000"/><rect x="475.69" y="212.45" width="3.76" height="6.91" fill="#c00000"/><rect x="479.94" y="212.45" width="3.76" height="6.91" fill="#e26b0a"/><rect x="484.20" y="212.45" width="3.76" height="6.91" fill="#c00000"/><rect x="488.46" y="212.45" width="3.76" height="6.91" fill="#c00000"/><rect x="492.71" y="212.45" width="3.76" height="6.91" fill="#e26b0a"/><rect x="496.97" y="212.45" width="3.76" height="6.91" fill="#e26b0a"/><rect x="505.48" y="212.45" width="3.76" height="6.91" fill="#c00000"/><rect x="509.74" y="212.45" width="3.76" height="6.91" fill="#c00000"/><rect x="433.12" y="219.81" width="3.76" height="6.91" fill="#e26b0a"/><rect x="441.63" y="227.16" width="3.76" height="6.91" fill="#e26b0a"/><rect x="445.89" y="227.16" width="3.76" height="6.91" fill="#e26b0a"/><rect x="450.14" y="227.16" width="3.76" height="6.91" fill="#e26b0a"/><rect x="454.40" y="227.16" width="3.76" height="6.91" fill="#e26b0a"/><rect x="458.66" y="227.16" width="3.76" height="6.91" fill="#e26b0a"/><rect x="462.91" y="227.16" width="3.76" height="6.91" fill="#e26b0a"/><rect x="467.17" y="227.16" width="3.76" height="6.91" fill="#e26b0a"/><rect x="471.43" y="227.16" width="3.76" height="6.91" fill="#e26b0a"/><rect x="386.29" y="234.52" width="3.76" height="6.91" fill="#00b0f0"/><rect x="390.54" y="234.52" width="3.76" height="6.91" fill="#00b0f0"/><rect x="394.80" y="234.52" width="3.76" height="6.91" fill="#00b0f0"/><rect x="399.06" y="234.52" width="3.76" height="6.91" fill="#00b0f0"/><rect x="403.32" y="234.52" width="3.76" height="6.91" fill="#00b0f0"/><rect x="407.57" y="234.52" width="3.76" height="6.91" fill="#00b0f0"/><rect x="411.83" y="234.52" width="3.76" height="6.91" fill="#00b0f0"/><rect x="416.09" y="234.52" width="3.76" height="6.91" fill="#00b0f0"/><rect x="360.75" y="241.88" width="3.76" height="6.91" fill="#e26b0a"/><rect x="365.00" y="241.88" width="3.76" height="6.91" fill="#e26b0a"/><rect x="241.55" y="249.23" width="3.76" height="6.91" fill="#0c1f5c"/><rect x="245.81" y="249.23" width="3.76" height="6.91" fill="#0c1f5c"/><rect x="250.06" y="249.23" width="3.76" height="6.91" fill="#00b0f0"/><rect x="254.32" y="249.23" width="3.76" height="6.91" fill="#00b0f0"/><rect x="258.58" y="249.23" width="3.76" height="6.91" fill="#0c1f5c"/><rect x="262.84" y="249.23" width="3.76" height="6.91" fill="#0c1f5c"/><rect x="267.09" y="249.23" width="3.76" height="6.91" fill="#0c1f5c"/><rect x="271.35" y="249.23" width="3.76" height="6.91" fill="#00b0f0"/><rect x="284.12" y="249.23" width="3.76" height="6.91" fill="#0c1f5c"/><rect x="288.38" y="249.23" width="3.76" height="6.91" fill="#00b0f0"/><rect x="322.43" y="249.23" width="3.76" height="6.91" fill="#00b0f0"/><rect x="326.69" y="249.23" width="3.76" height="6.91" fill="#00b0f0"/><rect x="335.20" y="249.23" width="3.76" height="6.91" fill="#00b0f0"/><rect x="343.72" y="249.23" width="3.76" height="6.91" fill="#00b0f0"/><rect x="407.57" y="249.23" width="3.76" height="6.91" fill="#00b0f0"/><rect x="241.55" y="256.59" width="3.76" height="6.91" fill="#00b0f0"/><rect x="254.32" y="256.59" width="3.76" height="6.91" fill="#00b0f0"/><rect x="258.58" y="256.59" width="3.76" height="6.91" fill="#00b0f0"/><rect x="275.61" y="256.59" width="3.76" height="6.91" fill="#00b0f0"/><rect x="309.66" y="256.59" width="3.76" height="6.91" fill="#00b0f0"/><rect x="245.81" y="263.95" width="3.76" height="6.91" fill="#e26b0a"/><rect x="271.35" y="263.95" width="3.76" height="6.91" fill="#e26b0a"/><rect x="245.81" y="271.31" width="3.76" height="6.91" fill="#00b0f0"/><rect x="258.58" y="271.31" width="3.76" height="6.91" fill="#00b0f0"/><rect x="267.09" y="271.31" width="3.76" height="6.91" fill="#00b0f0"/><rect x="271.35" y="271.31" width="3.76" height="6.91" fill="#00b0f0"/><rect x="279.86" y="271.31" width="3.76" height="6.91" fill="#00b0f0"/><rect x="284.12" y="278.66" width="3.76" height="6.91" fill="#00b0f0"/><rect x="292.63" y="278.66" width="3.76" height="6.91" fill="#00b0f0"/><rect x="313.92" y="278.66" width="3.76" height="6.91" fill="#00b0f0"/><rect x="318.18" y="278.66" width="3.76" height="6.91" fill="#00b0f0"/><rect x="322.43" y="278.66" width="3.76" height="6.91" fill="#00b0f0"/><rect x="326.69" y="278.66" width="3.76" height="6.91" fill="#00b0f0"/><rect x="335.20" y="278.66" width="3.76" height="6.91" fill="#00b0f0"/><rect x="318.18" y="286.02" width="3.76" height="6.91" fill="#00b0f0"/><rect x="309.66" y="293.38" width="3.76" height="6.91" fill="#00b0f0"/><rect x="313.92" y="300.73" width="3.76" height="6.91" fill="#00b0f0"/><rect x="382.03" y="300.73" width="3.76" height="6.91" fill="#00b0f0"/><rect x="403.32" y="300.73" width="3.76" height="6.91" fill="#00b0f0"/><rect x="450.14" y="300.73" width="3.76" height="6.91" fill="#00b0f0"/><rect x="241.55" y="308.09" width="3.76" height="6.91" fill="#ffc000"/><rect x="245.81" y="308.09" width="3.76" height="6.91" fill="#ffc000"/><rect x="250.06" y="308.09" width="3.76" height="6.91" fill="#ffc000"/><rect x="254.32" y="308.09" width="3.76" height="6.91" fill="#ffc000"/><rect x="258.58" y="308.09" width="3.76" height="6.91" fill="#ffc000"/><rect x="262.84" y="308.09" width="3.76" height="6.91" fill="#ffc000"/><rect x="267.09" y="308.09" width="3.76" height="6.91" fill="#ffc000"/><rect x="271.35" y="308.09" width="3.76" height="6.91" fill="#ffc000"/><rect x="309.66" y="308.09" width="3.76" height="6.91" fill="#ffc000"/><rect x="318.18" y="308.09" width="3.76" height="6.91" fill="#ffc000"/><rect x="322.43" y="308.09" width="3.76" height="6.91" fill="#ffc000"/><rect x="330.95" y="308.09" width="3.76" height="6.91" fill="#ffc000"/><rect x="335.20" y="308.09" width="3.76" height="6.91" fill="#ffc000"/><rect x="339.46" y="308.09" width="3.76" height="6.91" fill="#ffc000"/><rect x="343.72" y="308.09" width="3.76" height="6.91" fill="#ffc000"/><rect x="347.98" y="308.09" width="3.76" height="6.91" fill="#ffc000"/><rect x="428.86" y="308.09" width="3.76" height="6.91" fill="#ffc000"/><rect x="296.89" y="315.45" width="3.76" height="6.91" fill="#ffc000"/><rect x="301.15" y="315.45" width="3.76" height="6.91" fill="#ffc000"/><rect x="305.41" y="315.45" width="3.76" height="6.91" fill="#ffc000"/><rect x="424.60" y="315.45" width="3.76" height="6.91" fill="#ffc000"/><rect x="437.37" y="315.45" width="3.76" height="6.91" fill="#ffc000"/><rect x="241.55" y="322.81" width="3.76" height="6.91" fill="#7030a0"/><rect x="245.81" y="322.81" width="3.76" height="6.91" fill="#7030a0"/><rect x="254.32" y="322.81" width="3.76" height="6.91" fill="#7030a0"/><rect x="258.58" y="322.81" width="3.76" height="6.91" fill="#7030a0"/><rect x="262.84" y="322.81" width="3.76" height="6.91" fill="#7030a0"/><rect x="271.35" y="322.81" width="3.76" height="6.91" fill="#7030a0"/><rect x="275.61" y="322.81" width="3.76" height="6.91" fill="#7030a0"/><rect x="377.77" y="322.81" width="3.76" height="6.91" fill="#7030a0"/><rect x="420.34" y="322.81" width="3.76" height="6.91" fill="#7030a0"/><rect x="428.86" y="322.81" width="3.76" height="6.91" fill="#7030a0"/><rect x="458.66" y="322.81" width="3.76" height="6.91" fill="#7030a0"/><rect x="492.71" y="322.81" width="3.76" height="6.91" fill="#7030a0"/><rect x="241.55" y="330.16" width="3.76" height="6.91" fill="#7030a0"/><rect x="245.81" y="330.16" width="3.76" height="6.91" fill="#7030a0"/><rect x="250.06" y="330.16" width="3.76" height="6.91" fill="#7030a0"/><rect x="254.32" y="330.16" width="3.76" height="6.91" fill="#7030a0"/><rect x="258.58" y="330.16" width="3.76" height="6.91" fill="#7030a0"/><rect x="262.84" y="330.16" width="3.76" height="6.91" fill="#7030a0"/><rect x="267.09" y="330.16" width="3.76" height="6.91" fill="#7030a0"/><rect x="271.35" y="330.16" width="3.76" height="6.91" fill="#7030a0"/><rect x="275.61" y="330.16" width="3.76" height="6.91" fill="#7030a0"/><rect x="296.89" y="330.16" width="3.76" height="6.91" fill="#7030a0"/><rect x="301.15" y="330.16" width="3.76" height="6.91" fill="#7030a0"/><rect x="305.41" y="330.16" width="3.76" height="6.91" fill="#7030a0"/><rect x="309.66" y="330.16" width="3.76" height="6.91" fill="#7030a0"/><rect x="318.18" y="330.16" width="3.76" height="6.91" fill="#7030a0"/><rect x="326.69" y="330.16" width="3.76" height="6.91" fill="#7030a0"/><rect x="339.46" y="330.16" width="3.76" height="6.91" fill="#7030a0"/><rect x="347.98" y="330.16" width="3.76" height="6.91" fill="#7030a0"/><rect x="352.23" y="330.16" width="3.76" height="6.91" fill="#7030a0"/><rect x="360.75" y="330.16" width="3.76" height="6.91" fill="#7030a0"/><rect x="365.00" y="330.16" width="3.76" height="6.91" fill="#7030a0"/><rect x="377.77" y="330.16" width="3.76" height="6.91" fill="#7030a0"/><rect x="382.03" y="330.16" width="3.76" height="6.91" fill="#7030a0"/><rect x="386.29" y="330.16" width="3.76" height="6.91" fill="#7030a0"/><rect x="416.09" y="330.16" width="3.76" height="6.91" fill="#7030a0"/><rect x="420.34" y="330.16" width="3.76" height="6.91" fill="#7030a0"/><rect x="428.86" y="330.16" width="3.76" height="6.91" fill="#7030a0"/><rect x="437.37" y="330.16" width="3.76" height="6.91" fill="#7030a0"/><rect x="450.14" y="330.16" width="3.76" height="6.91" fill="#7030a0"/><rect x="454.40" y="330.16" width="3.76" height="6.91" fill="#7030a0"/><rect x="458.66" y="330.16" width="3.76" height="6.91" fill="#7030a0"/><rect x="467.17" y="330.16" width="3.76" height="6.91" fill="#7030a0"/><rect x="471.43" y="330.16" width="3.76" height="6.91" fill="#7030a0"/><rect x="479.94" y="330.16" width="3.76" height="6.91" fill="#7030a0"/><rect x="492.71" y="330.16" width="3.76" height="6.91" fill="#7030a0"/><rect x="501.23" y="330.16" width="3.76" height="6.91" fill="#7030a0"/><rect x="241.55" y="337.52" width="3.76" height="6.91" fill="#000000"/><rect x="245.81" y="337.52" width="3.76" height="6.91" fill="#000000"/><rect x="250.06" y="337.52" width="3.76" height="6.91" fill="#000000"/><rect x="258.58" y="337.52" width="3.76" height="6.91" fill="#000000"/><rect x="262.84" y="337.52" width="3.76" height="6.91" fill="#000000"/><rect x="267.09" y="337.52" width="3.76" height="6.91" fill="#000000"/><rect x="271.35" y="337.52" width="3.76" height="6.91" fill="#000000"/><rect x="296.89" y="337.52" width="3.76" height="6.91" fill="#000000"/><rect x="301.15" y="337.52" width="3.76" height="6.91" fill="#000000"/><rect x="318.18" y="337.52" width="3.76" height="6.91" fill="#000000"/><rect x="339.46" y="337.52" width="3.76" height="6.91" fill="#000000"/><rect x="347.98" y="337.52" width="3.76" height="6.91" fill="#000000"/><rect x="352.23" y="337.52" width="3.76" height="6.91" fill="#000000"/><rect x="360.75" y="337.52" width="3.76" height="6.91" fill="#000000"/><rect x="365.00" y="337.52" width="3.76" height="6.91" fill="#000000"/><rect x="377.77" y="337.52" width="3.76" height="6.91" fill="#000000"/><rect x="416.09" y="337.52" width="3.76" height="6.91" fill="#000000"/><rect x="428.86" y="337.52" width="3.76" height="6.91" fill="#000000"/><rect x="454.40" y="337.52" width="3.76" height="6.91" fill="#000000"/><rect x="479.94" y="337.52" width="3.76" height="6.91" fill="#000000"/><rect x="492.71" y="337.52" width="3.76" height="6.91" fill="#000000"/><rect x="501.23" y="337.52" width="3.76" height="6.91" fill="#000000"/></g>
<rect x="241.3" y="212.2" width="272.44800000000004" height="132.426" fill="none" stroke="#555" stroke-width="0.8"/>
<line x1="241.3" y1="248.98499999999999" x2="513.748" y2="248.98499999999999" stroke="#444" stroke-width="0.8"/>
<line x1="241.3" y1="307.841" x2="513.748" y2="307.841" stroke="#444" stroke-width="0.8"/>
<line x1="241.3" y1="322.555" x2="513.748" y2="322.555" stroke="#444" stroke-width="0.8"/>
<line x1="274.6" y1="212.2" x2="274.6" y2="344.626" stroke="#444" stroke-width="0.8"/>
<line x1="347.2" y1="212.2" x2="347.2" y2="344.626" stroke="#444" stroke-width="0.8"/>
<text font-size="6.7" text-anchor="end" fill="#111" stroke="#111" stroke-width="0.12" transform="translate(238.10,217.95) scale(1.020,1)" ><tspan font-style="italic">KMT2A-R</tspan></text>
<text font-size="6.7" text-anchor="end" fill="#111" stroke="#111" stroke-width="0.12" transform="translate(238.10,225.31) scale(1.020,1)" ><tspan font-style="italic">CBFB-MYH11</tspan></text>
<text font-size="6.7" text-anchor="end" fill="#111" stroke="#111" stroke-width="0.12" transform="translate(238.10,232.66) scale(1.020,1)" ><tspan font-style="italic">RUNX1-RUNX1T1</tspan></text>
<text font-size="6.7" text-anchor="end" fill="#111" stroke="#111" stroke-width="0.12" transform="translate(238.10,240.02) scale(1.020,1)" >Biallelic <tspan font-style="italic">CEBPA</tspan></text>
<text font-size="6.7" text-anchor="end" fill="#111" stroke="#111" stroke-width="0.12" transform="translate(238.10,247.38) scale(1.020,1)" ><tspan font-style="italic">FUS-ERG</tspan></text>
<text font-size="6.7" text-anchor="end" fill="#111" stroke="#111" stroke-width="0.12" transform="translate(238.10,254.73) scale(1.020,1)" ><tspan font-style="italic">FLT3-ITD</tspan></text>
<text font-size="6.7" text-anchor="end" fill="#111" stroke="#111" stroke-width="0.12" transform="translate(238.10,262.09) scale(1.020,1)" ><tspan font-style="italic">KMT2A-PTD</tspan></text>
<text font-size="6.7" text-anchor="end" fill="#111" stroke="#111" stroke-width="0.12" transform="translate(238.10,269.45) scale(1.020,1)" ><tspan font-style="italic">NUP98-NSD1</tspan></text>
<text font-size="6.7" text-anchor="end" fill="#111" stroke="#111" stroke-width="0.12" transform="translate(238.10,276.81) scale(1.020,1)" ><tspan font-style="italic">WT1</tspan></text>
<text font-size="6.7" text-anchor="end" fill="#111" stroke="#111" stroke-width="0.12" transform="translate(238.10,284.16) scale(1.020,1)" ><tspan font-style="italic">NPM1</tspan></text>
<text font-size="6.7" text-anchor="end" fill="#111" stroke="#111" stroke-width="0.12" transform="translate(238.10,291.52) scale(1.020,1)" ><tspan font-style="italic">DNMT3A</tspan></text>
<text font-size="6.7" text-anchor="end" fill="#111" stroke="#111" stroke-width="0.12" transform="translate(238.10,298.88) scale(1.020,1)" ><tspan font-style="italic">IDH1/2</tspan></text>
<text font-size="6.7" text-anchor="end" fill="#111" stroke="#111" stroke-width="0.12" transform="translate(238.10,306.23) scale(1.020,1)" ><tspan font-style="italic">TET2</tspan></text>
<text font-size="6.7" text-anchor="end" fill="#111" stroke="#111" stroke-width="0.12" transform="translate(238.10,313.59) scale(1.020,1)" ><tspan font-style="italic">PRDM16</tspan> high</text>
<text font-size="6.7" text-anchor="end" fill="#111" stroke="#111" stroke-width="0.12" transform="translate(238.10,320.95) scale(1.020,1)" ><tspan font-style="italic">MECOM</tspan> high</text>
<text font-size="6.7" text-anchor="end" fill="#111" stroke="#111" stroke-width="0.12" transform="translate(238.10,328.31) scale(1.020,1)" >Non-CR</text>
<text font-size="6.7" text-anchor="end" fill="#111" stroke="#111" stroke-width="0.12" transform="translate(238.10,335.66) scale(1.020,1)" >Event</text>
<text font-size="6.7" text-anchor="end" fill="#111" stroke="#111" stroke-width="0.12" transform="translate(238.10,343.02) scale(1.020,1)" >Death</text>
<text font-size="10.4" font-weight="bold" fill="#000" transform="translate(6.90,390.70) scale(0.950,1)" >B</text>
<line x1="60.9" y1="396.70000000000005" x2="60.9" y2="499.70000000000005" stroke="#222" stroke-width="1.2"/>
<line x1="60.4" y1="499.6" x2="211.2" y2="499.6" stroke="#222" stroke-width="1.2"/>
<line x1="58.3" y1="399.1" x2="60.9" y2="399.1" stroke="#333" stroke-width="0.8"/>
<text font-size="6.9" text-anchor="end" fill="#1a1a1a" stroke="#1a1a1a" stroke-width="0.12" transform="translate(54.50,401.40) scale(1.060,1)" >100</text>
<line x1="58.3" y1="419.1" x2="60.9" y2="419.1" stroke="#333" stroke-width="0.8"/>
<text font-size="6.9" text-anchor="end" fill="#1a1a1a" stroke="#1a1a1a" stroke-width="0.12" transform="translate(54.50,421.40) scale(1.060,1)" >80</text>
<line x1="58.3" y1="439.1" x2="60.9" y2="439.1" stroke="#333" stroke-width="0.8"/>
<text font-size="6.9" text-anchor="end" fill="#1a1a1a" stroke="#1a1a1a" stroke-width="0.12" transform="translate(54.50,441.40) scale(1.060,1)" >60</text>
<line x1="58.3" y1="459.1" x2="60.9" y2="459.1" stroke="#333" stroke-width="0.8"/>
<text font-size="6.9" text-anchor="end" fill="#1a1a1a" stroke="#1a1a1a" stroke-width="0.12" transform="translate(54.50,461.40) scale(1.060,1)" >40</text>
<line x1="58.3" y1="479.1" x2="60.9" y2="479.1" stroke="#333" stroke-width="0.8"/>
<text font-size="6.9" text-anchor="end" fill="#1a1a1a" stroke="#1a1a1a" stroke-width="0.12" transform="translate(54.50,481.40) scale(1.060,1)" >20</text>
<line x1="58.3" y1="499.1" x2="60.9" y2="499.1" stroke="#333" stroke-width="0.8"/>
<text font-size="6.9" text-anchor="end" fill="#1a1a1a" stroke="#1a1a1a" stroke-width="0.12" transform="translate(54.50,501.40) scale(1.060,1)" >0</text>
<line x1="60.9" y1="499.6" x2="60.9" y2="502.1" stroke="#333" stroke-width="0.8"/>
<text font-size="6.9" text-anchor="middle" fill="#1a1a1a" stroke="#1a1a1a" stroke-width="0.12" transform="translate(60.90,510.50) scale(1.060,1)" >0</text>
<line x1="98.3" y1="499.6" x2="98.3" y2="502.1" stroke="#333" stroke-width="0.8"/>
<text font-size="6.9" text-anchor="middle" fill="#1a1a1a" stroke="#1a1a1a" stroke-width="0.12" transform="translate(98.32,510.50) scale(1.060,1)" >500</text>
<line x1="135.8" y1="499.6" x2="135.8" y2="502.1" stroke="#333" stroke-width="0.8"/>
<text font-size="6.9" text-anchor="middle" fill="#1a1a1a" stroke="#1a1a1a" stroke-width="0.12" transform="translate(135.75,510.50) scale(1.060,1)" >1000</text>
<line x1="173.2" y1="499.6" x2="173.2" y2="502.1" stroke="#333" stroke-width="0.8"/>
<text font-size="6.9" text-anchor="middle" fill="#1a1a1a" stroke="#1a1a1a" stroke-width="0.12" transform="translate(173.17,510.50) scale(1.060,1)" >1500</text>
<line x1="210.6" y1="499.6" x2="210.6" y2="502.1" stroke="#333" stroke-width="0.8"/>
<text font-size="6.9" text-anchor="middle" fill="#1a1a1a" stroke="#1a1a1a" stroke-width="0.12" transform="translate(210.60,510.50) scale(1.060,1)" >2000</text>
<text font-size="9.6" text-anchor="middle" font-weight="bold" fill="#222" transform="translate(137.35,523.50) scale(0.566,1)" >Days</text>
<text font-size="9.3" text-anchor="middle" font-weight="bold" fill="#222" transform="translate(36.40,447.50) rotate(-90) scale(0.623,1)" >Overall survival (%)</text>
<path d="M76.5 399.1V411.6H84.8V424.1H86.7V436.6H91.9V449.1H106.7V461.6H112.8V474.1H119V486.6H128.2" stroke="#d0203a" stroke-width="1.3" fill="none"/>
<path d="M61 399.1H201.2" stroke="#2e66a2" stroke-width="1.4" fill="none"/>
<path d="M103.6 396.6V399.1M121.8 396.6V399.1M184.2 396.6V399.1M194.1 396.6V399.1M201.2 396.6V399.1" stroke="#2e66a2" stroke-width="0.8"/>
<path d="M128.2 484.2V486.6" stroke="#d0203a" stroke-width="0.8"/>
<text font-size="6.8" fill="#1a1a1a" stroke="#1a1a1a" stroke-width="0.12" transform="translate(141.40,382.00) scale(1.040,1)" >Cluster A (<tspan font-style="italic">n</tspan>=8)</text>
<text font-size="6.8" fill="#1a1a1a" stroke="#1a1a1a" stroke-width="0.12" transform="translate(141.40,391.60) scale(1.040,1)" >Cluster B or C (<tspan font-style="italic">n</tspan>=7)</text>
<path d="M131.5 380.8H138.3M138.3 379V380.8" stroke="#d0203a" stroke-width="1.1"/>
<path d="M131.5 390.4H138.3M138.3 388.6V390.4" stroke="#2e66a2" stroke-width="1.1"/>
<text font-size="6.8" text-anchor="end" fill="#1a1a1a" stroke="#1a1a1a" stroke-width="0.12" transform="translate(206.00,412.60) scale(1.040,1)" >5-years OS 100%</text>
<text font-size="6.8" text-anchor="end" fill="#1a1a1a" stroke="#1a1a1a" stroke-width="0.12" transform="translate(206.30,452.60) scale(1.040,1)" ><tspan font-style="italic">P</tspan>=.002</text>
<text font-size="6.8" text-anchor="end" fill="#1a1a1a" stroke="#1a1a1a" stroke-width="0.12" transform="translate(202.30,484.60) scale(1.040,1)" >5-years OS 13%</text>
<text font-size="10.4" font-weight="bold" fill="#000" transform="translate(262.50,390.80) scale(0.950,1)" >C</text>
<line x1="300.9" y1="397.20000000000005" x2="300.9" y2="499.8" stroke="#222" stroke-width="1.2"/>
<line x1="300.4" y1="499.7" x2="451.1" y2="499.7" stroke="#222" stroke-width="1.2"/>
<line x1="298.29999999999995" y1="399.6" x2="300.9" y2="399.6" stroke="#333" stroke-width="0.8"/>
<text font-size="6.9" text-anchor="end" fill="#1a1a1a" stroke="#1a1a1a" stroke-width="0.12" transform="translate(296.00,401.90) scale(1.060,1)" >100</text>
<line x1="298.29999999999995" y1="419.5" x2="300.9" y2="419.5" stroke="#333" stroke-width="0.8"/>
<text font-size="6.9" text-anchor="end" fill="#1a1a1a" stroke="#1a1a1a" stroke-width="0.12" transform="translate(296.00,421.82) scale(1.060,1)" >80</text>
<line x1="298.29999999999995" y1="439.4" x2="300.9" y2="439.4" stroke="#333" stroke-width="0.8"/>
<text font-size="6.9" text-anchor="end" fill="#1a1a1a" stroke="#1a1a1a" stroke-width="0.12" transform="translate(296.00,441.74) scale(1.060,1)" >60</text>
<line x1="298.29999999999995" y1="459.4" x2="300.9" y2="459.4" stroke="#333" stroke-width="0.8"/>
<text font-size="6.9" text-anchor="end" fill="#1a1a1a" stroke="#1a1a1a" stroke-width="0.12" transform="translate(296.00,461.66) scale(1.060,1)" >40</text>
<line x1="298.29999999999995" y1="479.3" x2="300.9" y2="479.3" stroke="#333" stroke-width="0.8"/>
<text font-size="6.9" text-anchor="end" fill="#1a1a1a" stroke="#1a1a1a" stroke-width="0.12" transform="translate(296.00,481.58) scale(1.060,1)" >20</text>
<line x1="298.29999999999995" y1="499.2" x2="300.9" y2="499.2" stroke="#333" stroke-width="0.8"/>
<text font-size="6.9" text-anchor="end" fill="#1a1a1a" stroke="#1a1a1a" stroke-width="0.12" transform="translate(296.00,501.50) scale(1.060,1)" >0</text>
<line x1="300.9" y1="499.7" x2="300.9" y2="502.2" stroke="#333" stroke-width="0.8"/>
<text font-size="6.9" text-anchor="middle" fill="#1a1a1a" stroke="#1a1a1a" stroke-width="0.12" transform="translate(300.90,510.60) scale(1.060,1)" >0</text>
<line x1="338.3" y1="499.7" x2="338.3" y2="502.2" stroke="#333" stroke-width="0.8"/>
<text font-size="6.9" text-anchor="middle" fill="#1a1a1a" stroke="#1a1a1a" stroke-width="0.12" transform="translate(338.30,510.60) scale(1.060,1)" >500</text>
<line x1="375.7" y1="499.7" x2="375.7" y2="502.2" stroke="#333" stroke-width="0.8"/>
<text font-size="6.9" text-anchor="middle" fill="#1a1a1a" stroke="#1a1a1a" stroke-width="0.12" transform="translate(375.70,510.60) scale(1.060,1)" >1000</text>
<line x1="413.1" y1="499.7" x2="413.1" y2="502.2" stroke="#333" stroke-width="0.8"/>
<text font-size="6.9" text-anchor="middle" fill="#1a1a1a" stroke="#1a1a1a" stroke-width="0.12" transform="translate(413.10,510.60) scale(1.060,1)" >1500</text>
<line x1="450.5" y1="499.7" x2="450.5" y2="502.2" stroke="#333" stroke-width="0.8"/>
<text font-size="6.9" text-anchor="middle" fill="#1a1a1a" stroke="#1a1a1a" stroke-width="0.12" transform="translate(450.50,510.60) scale(1.060,1)" >2000</text>
<text font-size="9.6" text-anchor="middle" font-weight="bold" fill="#222" transform="translate(377.30,523.20) scale(0.566,1)" >Days</text>
<text font-size="9.3" text-anchor="middle" font-weight="bold" fill="#222" transform="translate(276.30,447.80) rotate(-90) scale(0.643,1)" >Event-free survival (%)</text>
<path d="M305.6 399.6V412.1H306.4V424.5H307V437H307.8V462H322.6V474.5H323.5V487H338.3V499.2" stroke="#d0203a" stroke-width="1.3" fill="none"/>
<path d="M301 399.6H329.2V414.3H440.5" stroke="#2e66a2" stroke-width="1.4" fill="none"/>
<path d="M342.6 411.8V414.3M360 411.8V414.3M423.75 411.8V414.3M432.5 411.8V414.3M440.5 411.8V414.3" stroke="#2e66a2" stroke-width="0.8"/>
<text font-size="6.8" fill="#1a1a1a" stroke="#1a1a1a" stroke-width="0.12" transform="translate(381.00,381.70) scale(1.040,1)" >Cluster A (<tspan font-style="italic">n</tspan>=8)</text>
<text font-size="6.8" fill="#1a1a1a" stroke="#1a1a1a" stroke-width="0.12" transform="translate(381.00,391.90) scale(1.040,1)" >Cluster B or C (<tspan font-style="italic">n</tspan>=7)</text>
<path d="M371.3 380.2H377.5M377.5 378.4V380.2" stroke="#d0203a" stroke-width="1.1"/>
<path d="M371.3 390H377.5M377.5 388.2V390" stroke="#2e66a2" stroke-width="1.1"/>
<text font-size="6.8" text-anchor="end" fill="#1a1a1a" stroke="#1a1a1a" stroke-width="0.12" transform="translate(451.60,423.60) scale(1.040,1)" >5-years EFS 86%</text>
<text font-size="6.8" text-anchor="end" fill="#1a1a1a" stroke="#1a1a1a" stroke-width="0.12" transform="translate(442.20,456.80) scale(1.040,1)" ><tspan font-style="italic">P</tspan>&lt;.001</text>
<text font-size="6.8" text-anchor="end" fill="#1a1a1a" stroke="#1a1a1a" stroke-width="0.12" transform="translate(398.40,486.50) scale(1.040,1)" >5-years EFS 0%</text>
<text font-size="10.4" font-weight="bold" fill="#000" transform="translate(126.80,553.40) scale(0.970,1)" >D</text>
<text font-size="9.0" font-weight="bold" fill="#111" transform="translate(187.60,553.90) scale(1.010,1)" >GO biological process top 10</text>
<rect x="302.1" y="564.20" width="57.9" height="6.7" fill="#c8102e"/>
<text x="295.60" y="570.05" font-size="7.3" text-anchor="end" fill="#111" stroke="#111" stroke-width="0.12" >Definitive hemopoiesis</text>
<rect x="302.1" y="574.02" width="42.0" height="6.7" fill="#c8102e"/>
<text x="295.60" y="579.87" font-size="7.3" text-anchor="end" fill="#111" stroke="#111" stroke-width="0.12" >Immune system development</text>
<rect x="302.1" y="583.84" width="40.6" height="6.7" fill="#c8102e"/>
<text x="295.60" y="589.69" font-size="7.3" text-anchor="end" fill="#111" stroke="#111" stroke-width="0.12" >Hematopoietic or lymphoid organ development</text>
<rect x="302.1" y="593.66" width="38.8" height="6.7" fill="#c8102e"/>
<text x="295.60" y="599.51" font-size="7.3" text-anchor="end" fill="#111" stroke="#111" stroke-width="0.12" >Hemopoiesis</text>
<rect x="302.1" y="603.48" width="18.3" height="6.7" fill="#c8102e"/>
<text x="295.60" y="609.33" font-size="7.3" text-anchor="end" fill="#111" stroke="#111" stroke-width="0.12" >Megakaryocyte development</text>
<rect x="302.1" y="613.30" width="17.2" height="6.7" fill="#c8102e"/>
<text x="295.60" y="619.15" font-size="7.3" text-anchor="end" fill="#111" stroke="#111" stroke-width="0.12" >Positive regulation of hemopoiesis</text>
<rect x="302.1" y="623.12" width="16.4" height="6.7" fill="#c8102e"/>
<text x="295.60" y="628.97" font-size="7.3" text-anchor="end" fill="#111" stroke="#111" stroke-width="0.12" >Angiogenesis</text>
<rect x="302.1" y="632.94" width="16.4" height="6.7" fill="#c8102e"/>
<text x="295.60" y="638.79" font-size="7.3" text-anchor="end" fill="#111" stroke="#111" stroke-width="0.12" >Positive regulation of myeloid cell differentiation</text>
<rect x="302.1" y="642.76" width="16.4" height="6.7" fill="#c8102e"/>
<text x="295.60" y="648.61" font-size="7.3" text-anchor="end" fill="#111" stroke="#111" stroke-width="0.12" >Anterior/posterior pattern specification</text>
<rect x="302.1" y="652.58" width="16.4" height="6.7" fill="#c8102e"/>
<text x="295.60" y="658.43" font-size="7.3" text-anchor="end" fill="#111" stroke="#111" stroke-width="0.12" >Myeloid cell differentiation</text>
<path d="M299.4 561.5V662.9M299 662.5H363.5" stroke="#333" stroke-width="1.1" fill="none"/>
<line x1="302.1" y1="662.5" x2="302.1" y2="665" stroke="#333" stroke-width="0.8"/>
<text font-size="6.9" text-anchor="middle" fill="#1a1a1a" stroke="#1a1a1a" stroke-width="0.12" transform="translate(302.10,670.40) scale(1.060,1)" >0</text>
<line x1="323.7" y1="662.5" x2="323.7" y2="665" stroke="#333" stroke-width="0.8"/>
<text font-size="6.9" text-anchor="middle" fill="#1a1a1a" stroke="#1a1a1a" stroke-width="0.12" transform="translate(323.70,670.40) scale(1.060,1)" >10</text>
<line x1="345.3" y1="662.5" x2="345.3" y2="665" stroke="#333" stroke-width="0.8"/>
<text font-size="6.9" text-anchor="middle" fill="#1a1a1a" stroke="#1a1a1a" stroke-width="0.12" transform="translate(345.30,670.40) scale(1.060,1)" >20</text>
<text font-size="8.5" text-anchor="middle" font-weight="bold" fill="#222" transform="translate(323.20,682.60) scale(0.718,1)" >–log<tspan font-size="5.8" dy="1.9">10</tspan><tspan dy="-1.9"> [FDR]</tspan></text>
<text font-size="9.4" text-anchor="middle" font-weight="bold" fill="#222" transform="translate(134.80,611.90) rotate(-90) scale(0.627,1)" >Go-terms</text>
<rect x="0.6" y="0.6" width="518.8" height="688.8" fill="none" stroke="#000" stroke-width="1.2"/>
</svg></body></html>
